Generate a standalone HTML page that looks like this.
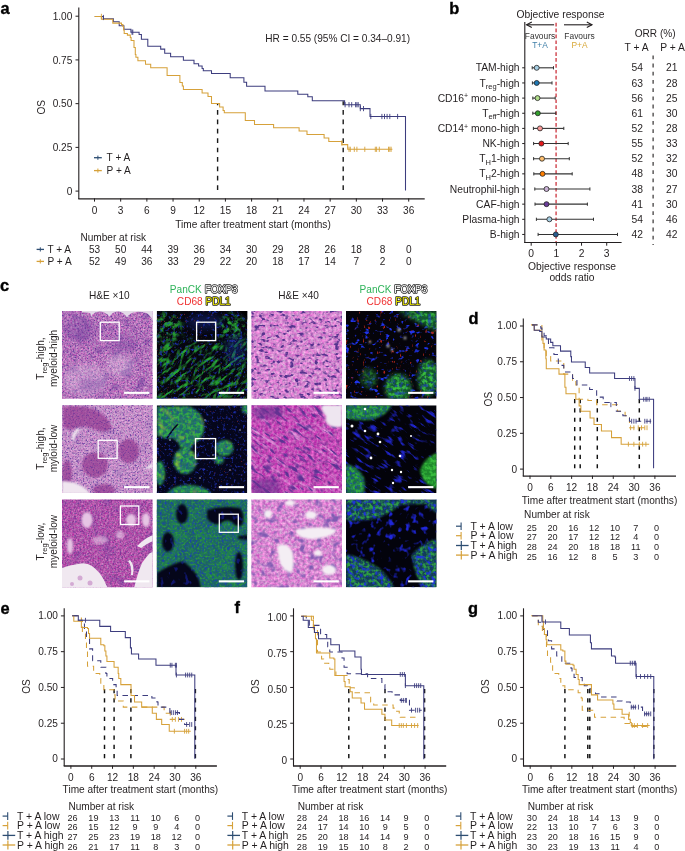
<!DOCTYPE html>
<html><head><meta charset="utf-8"><style>
html,body{margin:0;padding:0;background:#fff;width:685px;height:851px;overflow:hidden}
svg{display:block;font-family:"Liberation Sans",sans-serif;will-change:transform}
</style></head><body>
<svg width="685" height="851" viewBox="0 0 685 851">
<defs><filter id="he10" x="0" y="0" width="1" height="1" color-interpolation-filters="sRGB"><feTurbulence type="fractalNoise" baseFrequency="0.55" numOctaves="2" seed="4"/><feColorMatrix type="matrix" values="0.42 0.32 0 0 0.36  0.56 -0.18 0 0 0.28  0.32 0.1 0 0 0.53  0 0 0 0 1"/></filter><filter id="hedots" x="0" y="0" width="1" height="1" color-interpolation-filters="sRGB"><feTurbulence type="fractalNoise" baseFrequency="0.6" numOctaves="2" seed="44"/><feColorMatrix type="matrix" values="0 0 0 0 0.4  0 0 0 0 0.22  0 0 0 0 0.62  0 0 4.5 0 -2.565"/></filter><filter id="he10m" x="0" y="0" width="1" height="1" color-interpolation-filters="sRGB"><feTurbulence type="fractalNoise" baseFrequency="0.55" numOctaves="2" seed="48"/><feColorMatrix type="matrix" values="0.42 0.32 0 0 0.33  0.5 -0.18 0 0 0.18  0.32 0.1 0 0 0.46  0 0 0 0 1"/></filter><filter id="he10b" x="0" y="0" width="1" height="1" color-interpolation-filters="sRGB"><feTurbulence type="fractalNoise" baseFrequency="0.55" numOctaves="2" seed="8"/><feColorMatrix type="matrix" values="0.42 0.32 0 0 0.36  0.56 -0.18 0 0 0.28  0.32 0.1 0 0 0.53  0 0 0 0 1"/></filter><filter id="heblot" x="0" y="0" width="1" height="1" color-interpolation-filters="sRGB"><feTurbulence type="fractalNoise" baseFrequency="0.09" numOctaves="2" seed="12"/><feColorMatrix type="matrix" values="0 0 0 0 0.4  0 0 0 0 0.22  0 0 0 0 0.6  3 0 0 0 -1.560"/></filter><filter id="heblot2" x="0" y="0" width="1" height="1" color-interpolation-filters="sRGB"><feTurbulence type="fractalNoise" baseFrequency="0.07" numOctaves="2" seed="31"/><feColorMatrix type="matrix" values="0 0 0 0 0.4  0 0 0 0 0.22  0 0 0 0 0.6  3 0 0 0 -1.650"/></filter><filter id="he40" x="0" y="0" width="1" height="1" color-interpolation-filters="sRGB"><feTurbulence type="fractalNoise" baseFrequency="0.35" numOctaves="2" seed="14"/><feColorMatrix type="matrix" values="0.4 0.3 0 0 0.49  0.55 -0.2 0 0 0.36  0.3 0.1 0 0 0.62  0 0 0 0 1"/></filter><filter id="nuc40" x="0" y="0" width="1" height="1" color-interpolation-filters="sRGB"><feTurbulence type="fractalNoise" baseFrequency="0.2 0.28" numOctaves="2" seed="15"/><feColorMatrix type="matrix" values="0 0 0 0 0.34  0 0 0 0 0.2  0 0 0 0 0.56  6 0 0 0 -3.360"/></filter><filter id="nuc40b" x="0" y="0" width="1" height="1" color-interpolation-filters="sRGB"><feTurbulence type="fractalNoise" baseFrequency="0.15 0.09" numOctaves="2" seed="25"/><feColorMatrix type="matrix" values="0 0 0 0 0.36  0 0 0 0 0.2  0 0 0 0 0.58  6 0 0 0 -3.420"/></filter><filter id="he40m" x="0" y="0" width="1" height="1" color-interpolation-filters="sRGB"><feTurbulence type="fractalNoise" baseFrequency="0.35" numOctaves="2" seed="16"/><feColorMatrix type="matrix" values="0.4 0.3 0 0 0.40  0.5 -0.2 0 0 0.15  0.3 0.1 0 0 0.51  0 0 0 0 1"/></filter><filter id="fib40" x="0" y="0" width="1" height="1" color-interpolation-filters="sRGB"><feTurbulence type="fractalNoise" baseFrequency="0.05 0.3" numOctaves="2" seed="26"/><feColorMatrix type="matrix" values="0 0 0 0 0.92  0 0 0 0 0.72  0 0 0 0 0.92  2.5 0 0 0 -1.450"/></filter><filter id="nucel" x="0" y="0" width="1" height="1" color-interpolation-filters="sRGB"><feTurbulence type="fractalNoise" baseFrequency="0.09 0.3" numOctaves="2" seed="27"/><feColorMatrix type="matrix" values="0 0 0 0 0.36  0 0 0 0 0.2  0 0 0 0 0.58  0 6 0 0 -3.330"/></filter><filter id="nuc40c" x="0" y="0" width="1" height="1" color-interpolation-filters="sRGB"><feTurbulence type="fractalNoise" baseFrequency="0.13 0.13" numOctaves="2" seed="35"/><feColorMatrix type="matrix" values="0 0 0 0 0.5  0 0 0 0 0.36  0 0 0 0 0.7  5 0 0 0 -2.750"/></filter><filter id="ifg" x="0" y="0" width="1" height="1" color-interpolation-filters="sRGB"><feTurbulence type="fractalNoise" baseFrequency="0.08 0.28" numOctaves="3" seed="5"/><feColorMatrix type="matrix" values="0 0 0 0 0.15  0 0 0 0 0.66  0 0 0 0 0.2  4.5 0 0 0 -2.340"/></filter><filter id="ifgB" x="0" y="0" width="1" height="1" color-interpolation-filters="sRGB"><feTurbulence type="fractalNoise" baseFrequency="0.1 0.3" numOctaves="3" seed="85"/><feColorMatrix type="matrix" values="0 0 0 0 0.15  0 0 0 0 0.66  0 0 0 0 0.2  4.5 0 0 0 -2.475"/></filter><filter id="ifgm" x="0" y="0" width="1" height="1" color-interpolation-filters="sRGB"><feTurbulence type="fractalNoise" baseFrequency="0.18" numOctaves="3" seed="55"/><feColorMatrix type="matrix" values="0 0 0 0 0.15  0 0 0 0 0.62  0 0 0 0 0.2  4 0 0 0 -1.800"/></filter><filter id="ifg2" x="0" y="0" width="1" height="1" color-interpolation-filters="sRGB"><feTurbulence type="fractalNoise" baseFrequency="0.1 0.1" numOctaves="3" seed="6"/><feColorMatrix type="matrix" values="0 0 0 0 0.14  0 0 0 0 0.64  0 0 0 0 0.2  4 0 0 0 -1.600"/></filter><filter id="ifb" x="0" y="0" width="1" height="1" color-interpolation-filters="sRGB"><feTurbulence type="fractalNoise" baseFrequency="0.35" numOctaves="2" seed="7"/><feColorMatrix type="matrix" values="0 0 0 0 0.12  0 0 0 0 0.2  0 0 0 0 0.75  0 3.5 0 0 -1.960"/></filter><filter id="ifr" x="0" y="0" width="1" height="1" color-interpolation-filters="sRGB"><feTurbulence type="fractalNoise" baseFrequency="0.7" numOctaves="1" seed="9"/><feColorMatrix type="matrix" values="0 0 0 0 0.8  0 0 0 0 0.2  0 0 0 0 0.2  0 0 8 0 -5.440"/></filter><filter id="ifnuc" x="0" y="0" width="1" height="1" color-interpolation-filters="sRGB"><feTurbulence type="fractalNoise" baseFrequency="0.2 0.26" numOctaves="2" seed="19"/><feColorMatrix type="matrix" values="0 0 0 0 0.12  0 0 0 0 0.2  0 0 0 0 0.92  0 6 0 0 -3.600"/></filter><filter id="ifnuc2" x="0" y="0" width="1" height="1" color-interpolation-filters="sRGB"><feTurbulence type="fractalNoise" baseFrequency="0.2 0.14" numOctaves="2" seed="29"/><feColorMatrix type="matrix" values="0 0 0 0 0.12  0 0 0 0 0.18  0 0 0 0 0.9  0 7 0 0 -4.200"/></filter><filter id="ifmem" x="0" y="0" width="1" height="1" color-interpolation-filters="sRGB"><feTurbulence type="fractalNoise" baseFrequency="0.3" numOctaves="2" seed="23"/><feColorMatrix type="matrix" values="0 0 0 0 0.22  0 0 0 0 0.74  0 0 0 0 0.24  3.5 0 0 0 -1.400"/></filter><filter id="ifg3" x="0" y="0" width="1" height="1" color-interpolation-filters="sRGB"><feTurbulence type="fractalNoise" baseFrequency="0.5" numOctaves="2" seed="71"/><feColorMatrix type="matrix" values="0 0 0 0 0.18  0 0 0 0 0.6  0 0 0 0 0.25  3 0 0 0 -1.350"/></filter><filter id="ifb3" x="0" y="0" width="1" height="1" color-interpolation-filters="sRGB"><feTurbulence type="fractalNoise" baseFrequency="0.4" numOctaves="2" seed="72"/><feColorMatrix type="matrix" values="0 0 0 0 0.1  0 0 0 0 0.25  0 0 0 0 0.7  0 3 0 0 -1.500"/></filter><filter id="nucIF" x="0" y="0" width="1" height="1" color-interpolation-filters="sRGB"><feTurbulence type="fractalNoise" baseFrequency="0.1 0.32" numOctaves="2" seed="81"/><feColorMatrix type="matrix" values="0 0 0 0 0.12  0 0 0 0 0.14  0 0 0 0 0.78  5 0 0 0 -2.750"/></filter><filter id="nucR" x="0" y="0" width="1" height="1" color-interpolation-filters="sRGB"><feTurbulence type="fractalNoise" baseFrequency="0.17 0.15" numOctaves="2" seed="91"/><feColorMatrix type="matrix" values="0 0 0 0 0.12  0 0 0 0 0.15  0 0 0 0 0.85  5 0 0 0 -2.850"/></filter><filter id="nucR2" x="0" y="0" width="1" height="1" color-interpolation-filters="sRGB"><feTurbulence type="fractalNoise" baseFrequency="0.25" numOctaves="2" seed="92"/><feColorMatrix type="matrix" values="0 0 0 0 0.12  0 0 0 0 0.2  0 0 0 0 0.85  0 4 0 0 -2.000"/></filter><filter id="ifyel" x="0" y="0" width="1" height="1" color-interpolation-filters="sRGB"><feTurbulence type="fractalNoise" baseFrequency="0.12" numOctaves="2" seed="61"/><feColorMatrix type="matrix" values="0 0 0 0 0.75  0 0 0 0 0.8  0 0 0 0 0.2  3 0 0 0 -1.650"/></filter><filter id="ifr40" x="0" y="0" width="1" height="1" color-interpolation-filters="sRGB"><feTurbulence type="fractalNoise" baseFrequency="0.35 0.2" numOctaves="2" seed="41"/><feColorMatrix type="matrix" values="0 0 0 0 0.85  0 0 0 0 0.18  0 0 0 0 0.12  0 0 7 0 -4.760"/></filter><filter id="bl2" x="-50%" y="-50%" width="200%" height="200%"><feGaussianBlur stdDeviation="2"/></filter><filter id="bl05" x="-50%" y="-50%" width="200%" height="200%"><feGaussianBlur stdDeviation="0.5"/></filter><filter id="bl1" x="-50%" y="-50%" width="200%" height="200%"><feGaussianBlur stdDeviation="1"/></filter><filter id="bl3" x="-50%" y="-50%" width="200%" height="200%"><feGaussianBlur stdDeviation="3"/></filter><mask id="m_r1c2b" maskUnits="userSpaceOnUse" x="0" y="0" width="685" height="851"><g fill="#fff" filter="url(#bl3)"><ellipse cx="168" cy="328" rx="14" ry="16"/><ellipse cx="232" cy="328" rx="14" ry="14"/></g></mask><mask id="m_r1c2" maskUnits="userSpaceOnUse" x="0" y="0" width="685" height="851"><rect x="156" y="340" width="92" height="60" fill="#fff" filter="url(#bl3)"/><g fill="#000" filter="url(#bl3)"><ellipse cx="200" cy="325" rx="16" ry="14"/><ellipse cx="178" cy="335" rx="6" ry="5" opacity="0.5"/><path d="M240,311 Q247,315 248,322 L248,311 Z"/></g></mask><mask id="m_r1c4" maskUnits="userSpaceOnUse" x="0" y="0" width="685" height="851"><g fill="#fff" filter="url(#bl2)"><path d="M398,311 L437,311 L437,331 Q430,329 420,323 Q408,317 398,311 Z"/><ellipse cx="398" cy="388" rx="13" ry="14"/><ellipse cx="428" cy="378" rx="10" ry="18"/><ellipse cx="369" cy="378" rx="8" ry="10" opacity="0.6"/></g></mask><mask id="m_r2c2" maskUnits="userSpaceOnUse" x="0" y="0" width="685" height="851"><g fill="#fff" filter="url(#bl1)"><path d="M157,407 L188,406 Q200,410 203,420 Q207,432 199,440 Q192,444 190,450 L180,447 Q178,440 172,438 Q164,440 160,436 L157,436 Z"/><ellipse cx="224.5" cy="448" rx="9" ry="8"/><ellipse cx="219" cy="460" rx="5" ry="4"/><ellipse cx="185" cy="461" rx="11.5" ry="13"/><ellipse cx="160" cy="473" rx="5" ry="12"/><path d="M166,494 Q174,484 190,485 Q206,486 212,494 Z"/><ellipse cx="246" cy="409" rx="4" ry="5"/></g><path d="M178,424 Q172,430 166,440" stroke="#000" stroke-width="1.5" fill="none"/></mask><mask id="m_r2c4" maskUnits="userSpaceOnUse" x="0" y="0" width="685" height="851"><g fill="#fff" filter="url(#bl1)"><path d="M346,405 L392,405 Q388,414 375,419 Q360,422 346,418 Z"/><path d="M346,464 Q358,466 364,478 Q366,488 363,494 L346,494 Z"/></g></mask><mask id="m_r2c4b" maskUnits="userSpaceOnUse" x="0" y="0" width="685" height="851"><g fill="#fff" filter="url(#bl1)"><path d="M437,453 Q424,458 420,470 Q422,484 437,489 Z"/></g></mask><mask id="m_r3c2" maskUnits="userSpaceOnUse" x="0" y="0" width="685" height="851"><rect x="156" y="499" width="92" height="89" fill="#fff"/><g fill="#000" filter="url(#bl1)"><path d="M157,573 Q168,565 183,561 Q190,566 197,575 Q200,581 201,588 L157,588 Z"/><path d="M207,510 Q222,505 240,508 Q246,516 242,525 Q236,528 232,522 Q226,518 220,524 Q212,526 207,518 Z"/><ellipse cx="182" cy="514" rx="6" ry="10"/><ellipse cx="168" cy="542" rx="6" ry="10"/><ellipse cx="239" cy="566" rx="4" ry="14"/><path d="M238,536 L248,535 L248,540 L238,539 Z"/></g></mask><mask id="m_r3c4" maskUnits="userSpaceOnUse" x="0" y="0" width="685" height="851"><g fill="#fff" filter="url(#bl1)"><path d="M346,499 L437,499 L437,503 Q420,504 400,505 Q392,512 378,518 Q360,522 346,520 Z"/><path d="M420,499 L437,499 L437,513 Q428,508 420,499 Z"/><path d="M346,554 Q365,558 380,569 Q390,578 395,590 L346,590 Z"/><path d="M437,539 Q420,544 412,555 Q414,575 424,590 L437,590 Z"/></g></mask></defs>
<rect width="685" height="851" fill="#fff"/>
<text x="0.60" y="13.60" font-size="16.4" font-weight="bold" fill="#000" stroke="#000" stroke-width="0.35">a</text>
<line x1="78.80" y1="7.60" x2="78.80" y2="198.90" stroke="#231f20" stroke-width="1.1"/>
<line x1="78.30" y1="198.90" x2="424.70" y2="198.90" stroke="#231f20" stroke-width="1.4"/>
<line x1="75.50" y1="16.20" x2="78.80" y2="16.20" stroke="#231f20" stroke-width="1"/>
<text x="72.30" y="19.80" font-size="10.1" text-anchor="end" fill="#231f20">1.00</text>
<line x1="75.50" y1="59.92" x2="78.80" y2="59.92" stroke="#231f20" stroke-width="1"/>
<text x="72.30" y="63.52" font-size="10.1" text-anchor="end" fill="#231f20">0.75</text>
<line x1="75.50" y1="103.65" x2="78.80" y2="103.65" stroke="#231f20" stroke-width="1"/>
<text x="72.30" y="107.25" font-size="10.1" text-anchor="end" fill="#231f20">0.50</text>
<line x1="75.50" y1="147.38" x2="78.80" y2="147.38" stroke="#231f20" stroke-width="1"/>
<text x="72.30" y="150.97" font-size="10.1" text-anchor="end" fill="#231f20">0.25</text>
<line x1="75.50" y1="191.10" x2="78.80" y2="191.10" stroke="#231f20" stroke-width="1"/>
<text x="72.30" y="194.70" font-size="10.1" text-anchor="end" fill="#231f20">0</text>
<line x1="94.50" y1="198.40" x2="94.50" y2="201.60" stroke="#231f20" stroke-width="1"/>
<text x="94.50" y="213.70" font-size="10.1" text-anchor="middle" fill="#231f20">0</text>
<line x1="120.68" y1="198.40" x2="120.68" y2="201.60" stroke="#231f20" stroke-width="1"/>
<text x="120.68" y="213.70" font-size="10.1" text-anchor="middle" fill="#231f20">3</text>
<line x1="146.87" y1="198.40" x2="146.87" y2="201.60" stroke="#231f20" stroke-width="1"/>
<text x="146.87" y="213.70" font-size="10.1" text-anchor="middle" fill="#231f20">6</text>
<line x1="173.05" y1="198.40" x2="173.05" y2="201.60" stroke="#231f20" stroke-width="1"/>
<text x="173.05" y="213.70" font-size="10.1" text-anchor="middle" fill="#231f20">9</text>
<line x1="199.24" y1="198.40" x2="199.24" y2="201.60" stroke="#231f20" stroke-width="1"/>
<text x="199.24" y="213.70" font-size="10.1" text-anchor="middle" fill="#231f20">12</text>
<line x1="225.42" y1="198.40" x2="225.42" y2="201.60" stroke="#231f20" stroke-width="1"/>
<text x="225.42" y="213.70" font-size="10.1" text-anchor="middle" fill="#231f20">15</text>
<line x1="251.60" y1="198.40" x2="251.60" y2="201.60" stroke="#231f20" stroke-width="1"/>
<text x="251.60" y="213.70" font-size="10.1" text-anchor="middle" fill="#231f20">18</text>
<line x1="277.79" y1="198.40" x2="277.79" y2="201.60" stroke="#231f20" stroke-width="1"/>
<text x="277.79" y="213.70" font-size="10.1" text-anchor="middle" fill="#231f20">21</text>
<line x1="303.97" y1="198.40" x2="303.97" y2="201.60" stroke="#231f20" stroke-width="1"/>
<text x="303.97" y="213.70" font-size="10.1" text-anchor="middle" fill="#231f20">24</text>
<line x1="330.16" y1="198.40" x2="330.16" y2="201.60" stroke="#231f20" stroke-width="1"/>
<text x="330.16" y="213.70" font-size="10.1" text-anchor="middle" fill="#231f20">27</text>
<line x1="356.34" y1="198.40" x2="356.34" y2="201.60" stroke="#231f20" stroke-width="1"/>
<text x="356.34" y="213.70" font-size="10.1" text-anchor="middle" fill="#231f20">30</text>
<line x1="382.52" y1="198.40" x2="382.52" y2="201.60" stroke="#231f20" stroke-width="1"/>
<text x="382.52" y="213.70" font-size="10.1" text-anchor="middle" fill="#231f20">33</text>
<line x1="408.71" y1="198.40" x2="408.71" y2="201.60" stroke="#231f20" stroke-width="1"/>
<text x="408.71" y="213.70" font-size="10.1" text-anchor="middle" fill="#231f20">36</text>
<text x="253.00" y="228.40" font-size="10.1" text-anchor="middle" fill="#231f20">Time after treatment start (months)</text>
<text x="80.40" y="240.70" font-size="10.1" fill="#231f20">Number at risk</text>
<text x="47.40" y="252.90" font-size="10.1" fill="#231f20">T + A</text>
<text x="47.40" y="264.90" font-size="10.1" fill="#231f20">P + A</text>
<line x1="36.60" y1="249.40" x2="44.00" y2="249.40" stroke="#2d4d72" stroke-width="1.3"/>
<line x1="40.30" y1="247.30" x2="40.30" y2="251.50" stroke="#2d4d72" stroke-width="1.0"/>
<line x1="36.60" y1="261.40" x2="44.00" y2="261.40" stroke="#d6a13a" stroke-width="1.3"/>
<line x1="40.30" y1="259.30" x2="40.30" y2="263.50" stroke="#d6a13a" stroke-width="1.0"/>
<text x="94.50" y="252.90" font-size="10.1" text-anchor="middle" fill="#231f20">53</text>
<text x="94.50" y="264.90" font-size="10.1" text-anchor="middle" fill="#231f20">52</text>
<text x="120.68" y="252.90" font-size="10.1" text-anchor="middle" fill="#231f20">50</text>
<text x="120.68" y="264.90" font-size="10.1" text-anchor="middle" fill="#231f20">49</text>
<text x="146.87" y="252.90" font-size="10.1" text-anchor="middle" fill="#231f20">44</text>
<text x="146.87" y="264.90" font-size="10.1" text-anchor="middle" fill="#231f20">36</text>
<text x="173.05" y="252.90" font-size="10.1" text-anchor="middle" fill="#231f20">39</text>
<text x="173.05" y="264.90" font-size="10.1" text-anchor="middle" fill="#231f20">33</text>
<text x="199.24" y="252.90" font-size="10.1" text-anchor="middle" fill="#231f20">36</text>
<text x="199.24" y="264.90" font-size="10.1" text-anchor="middle" fill="#231f20">29</text>
<text x="225.42" y="252.90" font-size="10.1" text-anchor="middle" fill="#231f20">34</text>
<text x="225.42" y="264.90" font-size="10.1" text-anchor="middle" fill="#231f20">22</text>
<text x="251.60" y="252.90" font-size="10.1" text-anchor="middle" fill="#231f20">30</text>
<text x="251.60" y="264.90" font-size="10.1" text-anchor="middle" fill="#231f20">20</text>
<text x="277.79" y="252.90" font-size="10.1" text-anchor="middle" fill="#231f20">29</text>
<text x="277.79" y="264.90" font-size="10.1" text-anchor="middle" fill="#231f20">18</text>
<text x="303.97" y="252.90" font-size="10.1" text-anchor="middle" fill="#231f20">28</text>
<text x="303.97" y="264.90" font-size="10.1" text-anchor="middle" fill="#231f20">17</text>
<text x="330.16" y="252.90" font-size="10.1" text-anchor="middle" fill="#231f20">26</text>
<text x="330.16" y="264.90" font-size="10.1" text-anchor="middle" fill="#231f20">14</text>
<text x="356.34" y="252.90" font-size="10.1" text-anchor="middle" fill="#231f20">18</text>
<text x="356.34" y="264.90" font-size="10.1" text-anchor="middle" fill="#231f20">7</text>
<text x="382.52" y="252.90" font-size="10.1" text-anchor="middle" fill="#231f20">8</text>
<text x="382.52" y="264.90" font-size="10.1" text-anchor="middle" fill="#231f20">2</text>
<text x="408.71" y="252.90" font-size="10.1" text-anchor="middle" fill="#231f20">0</text>
<text x="408.71" y="264.90" font-size="10.1" text-anchor="middle" fill="#231f20">0</text>
<text transform="translate(44.9,107.2) rotate(-90)" font-size="10.1" text-anchor="middle" fill="#231f20">OS</text>
<text x="265.30" y="42.20" font-size="10.1" fill="#231f20">HR = 0.55 (95% CI = 0.34–0.91)</text>
<line x1="94.00" y1="157.70" x2="101.80" y2="157.70" stroke="#2d4d72" stroke-width="1.3"/>
<line x1="97.90" y1="155.60" x2="97.90" y2="159.80" stroke="#2d4d72" stroke-width="1.0"/>
<text x="106.60" y="161.40" font-size="10.1" fill="#231f20">T + A</text>
<line x1="94.00" y1="170.60" x2="101.80" y2="170.60" stroke="#d6a13a" stroke-width="1.3"/>
<line x1="97.90" y1="168.50" x2="97.90" y2="172.70" stroke="#d6a13a" stroke-width="1.0"/>
<text x="106.60" y="174.30" font-size="10.1" fill="#231f20">P + A</text>
<line x1="217.60" y1="103.65" x2="217.60" y2="191.10" stroke="#1a1a1a" stroke-width="1.4" stroke-dasharray="4.7,4.7" stroke-dashoffset="3"/>
<line x1="343.20" y1="101.15" x2="343.20" y2="191.10" stroke="#1a1a1a" stroke-width="1.4" stroke-dasharray="4.7,4.7" stroke-dashoffset="0.5"/>
<polyline points="94.70,16.40 103.40,16.40 103.40,18.80 113.40,18.80 113.40,21.70 119.20,21.70 119.20,25.80 123.90,25.80 123.90,29.30 130.90,29.30 130.90,32.20 139.10,32.20 139.10,34.50 141.40,34.50 141.40,39.20 147.80,39.20 147.80,46.20 160.70,46.20 160.70,49.10 164.70,49.10 164.70,53.20 170.60,53.20 170.60,56.70 183.40,56.70 183.40,60.20 194.00,60.20 194.00,63.70 198.60,63.70 198.60,66.00 202.10,66.00 202.10,68.40 203.30,68.40 203.30,70.70 211.50,70.70 211.50,73.50 230.20,73.50 230.20,77.70 243.90,77.70 243.90,82.30 246.60,82.30 246.60,86.30 265.00,86.30 265.00,91.00 297.80,91.00 297.80,94.20 307.80,94.20 307.80,96.80 312.30,96.80 312.30,100.70 344.60,100.70 344.60,104.70 360.30,104.70 360.30,108.60 370.00,108.60 370.00,116.50 405.50,116.50 405.50,190.50" fill="none" stroke="#3d3d7e" stroke-width="1.05" stroke-linejoin="miter"/>
<polyline points="94.70,16.40 101.40,16.40 101.40,19.30 112.80,19.30 112.80,23.10 121.50,23.10 121.50,24.60 122.90,24.60 122.90,26.40 123.60,26.40 123.60,29.90 124.20,29.90 124.20,33.40 127.40,33.40 127.40,35.10 130.30,35.10 130.30,37.40 131.10,37.40 131.10,40.40 134.00,40.40 134.00,47.40 135.30,47.40 135.30,54.40 135.90,54.40 135.90,57.30 137.90,57.30 137.90,60.80 145.50,60.80 145.50,64.30 150.70,64.30 150.70,67.80 167.10,67.80 167.10,75.40 178.30,75.40 178.30,75.40 179.90,75.40 179.90,82.40 182.30,82.40 182.30,85.90 183.40,85.90 183.40,89.40 202.10,89.40 202.10,92.90 208.00,92.90 208.00,96.40 211.50,96.40 211.50,103.40 219.60,103.40 219.60,106.90 223.10,106.90 223.10,110.40 224.30,110.40 224.30,112.80 245.30,112.80 245.30,120.40 254.50,120.40 254.50,124.40 273.60,124.40 273.60,127.80 299.10,127.80 299.10,130.90 307.00,130.90 307.00,134.40 324.10,134.40 324.10,138.00 328.80,138.00 328.80,141.50 341.90,141.50 341.90,144.60 347.70,144.60 347.70,149.30 392.40,149.30" fill="none" stroke="#d6a13a" stroke-width="1.05" stroke-linejoin="miter"/>
<line x1="101.40" y1="13.80" x2="101.40" y2="19.00" stroke="#d6a13a" stroke-width="0.9"/>
<line x1="103.40" y1="14.90" x2="103.40" y2="20.10" stroke="#3d3d7e" stroke-width="0.9"/>
<line x1="132.00" y1="29.60" x2="132.00" y2="34.80" stroke="#3d3d7e" stroke-width="0.9"/>
<line x1="132.80" y1="29.60" x2="132.80" y2="34.80" stroke="#3d3d7e" stroke-width="0.9"/>
<line x1="349.00" y1="146.70" x2="349.00" y2="151.90" stroke="#d6a13a" stroke-width="0.9"/>
<line x1="350.30" y1="146.70" x2="350.30" y2="151.90" stroke="#d6a13a" stroke-width="0.9"/>
<line x1="354.30" y1="146.70" x2="354.30" y2="151.90" stroke="#d6a13a" stroke-width="0.9"/>
<line x1="356.90" y1="146.70" x2="356.90" y2="151.90" stroke="#d6a13a" stroke-width="0.9"/>
<line x1="364.80" y1="146.70" x2="364.80" y2="151.90" stroke="#d6a13a" stroke-width="0.9"/>
<line x1="375.30" y1="146.70" x2="375.30" y2="151.90" stroke="#d6a13a" stroke-width="0.9"/>
<line x1="376.60" y1="146.70" x2="376.60" y2="151.90" stroke="#d6a13a" stroke-width="0.9"/>
<line x1="379.30" y1="146.70" x2="379.30" y2="151.90" stroke="#d6a13a" stroke-width="0.9"/>
<line x1="388.50" y1="146.70" x2="388.50" y2="151.90" stroke="#d6a13a" stroke-width="0.9"/>
<line x1="389.80" y1="146.70" x2="389.80" y2="151.90" stroke="#d6a13a" stroke-width="0.9"/>
<line x1="391.10" y1="146.70" x2="391.10" y2="151.90" stroke="#d6a13a" stroke-width="0.9"/>
<line x1="341.90" y1="140.40" x2="341.90" y2="145.60" stroke="#d6a13a" stroke-width="0.9"/>
<line x1="345.10" y1="102.10" x2="345.10" y2="107.30" stroke="#3d3d7e" stroke-width="0.9"/>
<line x1="349.00" y1="102.10" x2="349.00" y2="107.30" stroke="#3d3d7e" stroke-width="0.9"/>
<line x1="351.70" y1="102.10" x2="351.70" y2="107.30" stroke="#3d3d7e" stroke-width="0.9"/>
<line x1="355.60" y1="102.10" x2="355.60" y2="107.30" stroke="#3d3d7e" stroke-width="0.9"/>
<line x1="356.90" y1="102.10" x2="356.90" y2="107.30" stroke="#3d3d7e" stroke-width="0.9"/>
<line x1="358.20" y1="102.10" x2="358.20" y2="107.30" stroke="#3d3d7e" stroke-width="0.9"/>
<line x1="360.30" y1="106.00" x2="360.30" y2="111.20" stroke="#3d3d7e" stroke-width="0.9"/>
<line x1="363.50" y1="106.00" x2="363.50" y2="111.20" stroke="#3d3d7e" stroke-width="0.9"/>
<line x1="370.80" y1="113.90" x2="370.80" y2="119.10" stroke="#3d3d7e" stroke-width="0.9"/>
<line x1="381.90" y1="113.90" x2="381.90" y2="119.10" stroke="#3d3d7e" stroke-width="0.9"/>
<line x1="384.50" y1="113.90" x2="384.50" y2="119.10" stroke="#3d3d7e" stroke-width="0.9"/>
<line x1="387.10" y1="113.90" x2="387.10" y2="119.10" stroke="#3d3d7e" stroke-width="0.9"/>
<line x1="389.80" y1="113.90" x2="389.80" y2="119.10" stroke="#3d3d7e" stroke-width="0.9"/>
<line x1="397.60" y1="113.90" x2="397.60" y2="119.10" stroke="#3d3d7e" stroke-width="0.9"/>
<text x="449.30" y="14.20" font-size="16.4" font-weight="bold" fill="#000" stroke="#000" stroke-width="0.35">b</text>
<line x1="524.80" y1="22.00" x2="524.80" y2="243.00" stroke="#231f20" stroke-width="1.1"/>
<line x1="524.30" y1="242.50" x2="621.60" y2="242.50" stroke="#231f20" stroke-width="1.1"/>
<line x1="531.20" y1="242.50" x2="531.20" y2="245.70" stroke="#231f20" stroke-width="1"/>
<text x="531.20" y="257.10" font-size="10.3" text-anchor="middle" fill="#231f20">0</text>
<line x1="556.37" y1="242.50" x2="556.37" y2="245.70" stroke="#231f20" stroke-width="1"/>
<text x="556.37" y="257.10" font-size="10.3" text-anchor="middle" fill="#231f20">1</text>
<line x1="581.54" y1="242.50" x2="581.54" y2="245.70" stroke="#231f20" stroke-width="1"/>
<text x="581.54" y="257.10" font-size="10.3" text-anchor="middle" fill="#231f20">2</text>
<line x1="606.71" y1="242.50" x2="606.71" y2="245.70" stroke="#231f20" stroke-width="1"/>
<text x="606.71" y="257.10" font-size="10.3" text-anchor="middle" fill="#231f20">3</text>
<text x="572.00" y="269.60" font-size="10.3" text-anchor="middle" fill="#231f20">Objective response</text>
<text x="572.00" y="281.00" font-size="10.3" text-anchor="middle" fill="#231f20">odds ratio</text>
<text x="560.50" y="17.90" font-size="10.3" text-anchor="middle" fill="#231f20">Objective response</text>
<line x1="526.60" y1="24.80" x2="554.10" y2="24.80" stroke="#231f20" stroke-width="1.1"/>
<polyline points="531.8,22.0 526.6,24.8 531.8,27.6" fill="none" stroke="#231f20" stroke-width="1.1"/>
<line x1="564.00" y1="24.80" x2="592.00" y2="24.80" stroke="#231f20" stroke-width="1.1"/>
<polyline points="586.8,22.0 592.0,24.8 586.8,27.6" fill="none" stroke="#231f20" stroke-width="1.1"/>
<text x="540.00" y="38.80" font-size="8.4" text-anchor="middle" fill="#333">Favours</text>
<text x="540.00" y="48.40" font-size="8.4" text-anchor="middle" fill="#3f7fa8">T+A</text>
<text x="579.50" y="38.80" font-size="8.4" text-anchor="middle" fill="#333">Favours</text>
<text x="579.50" y="48.40" font-size="8.4" text-anchor="middle" fill="#d8a838">P+A</text>
<line x1="556.10" y1="22.70" x2="556.10" y2="242.00" stroke="#d65a62" stroke-width="1.6" stroke-dasharray="3.7,2.2"/>
<text x="655.20" y="36.60" font-size="10.1" text-anchor="middle" fill="#231f20">ORR (%)</text>
<text x="636.50" y="51.20" font-size="10.3" text-anchor="middle" fill="#231f20">T + A</text>
<text x="672.50" y="51.20" font-size="10.3" text-anchor="middle" fill="#231f20">P + A</text>
<line x1="653.10" y1="55.40" x2="653.10" y2="245.00" stroke="#231f20" stroke-width="1.1" stroke-dasharray="3.8,4.4"/>
<line x1="522.20" y1="67.80" x2="524.80" y2="67.80" stroke="#231f20" stroke-width="1"/>
<text x="519.60" y="71.40" font-size="10.3" text-anchor="end" fill="#231f20">TAM-high</text>
<line x1="532.20" y1="67.80" x2="553.50" y2="67.80" stroke="#333" stroke-width="1.1"/>
<line x1="532.20" y1="66.20" x2="532.20" y2="69.40" stroke="#333" stroke-width="1.0"/>
<line x1="553.50" y1="66.20" x2="553.50" y2="69.40" stroke="#333" stroke-width="1.0"/>
<circle cx="536.70" cy="67.80" r="2.5" fill="#a6cee3" stroke="#222" stroke-width="0.8"/>
<text x="637.20" y="71.40" font-size="10.3" text-anchor="middle" fill="#231f20">54</text>
<text x="671.80" y="71.40" font-size="10.3" text-anchor="middle" fill="#231f20">21</text>
<line x1="522.20" y1="82.95" x2="524.80" y2="82.95" stroke="#231f20" stroke-width="1"/>
<text x="519.60" y="86.55" font-size="10.3" text-anchor="end" fill="#231f20">T<tspan font-size="7.5" dy="2.5">reg</tspan><tspan dy="-2.5">-high</tspan></text>
<line x1="532.40" y1="82.95" x2="552.00" y2="82.95" stroke="#333" stroke-width="1.1"/>
<line x1="532.40" y1="81.35" x2="532.40" y2="84.55" stroke="#333" stroke-width="1.0"/>
<line x1="552.00" y1="81.35" x2="552.00" y2="84.55" stroke="#333" stroke-width="1.0"/>
<circle cx="536.70" cy="82.95" r="2.5" fill="#1f78b4" stroke="#222" stroke-width="0.8"/>
<text x="637.20" y="86.55" font-size="10.3" text-anchor="middle" fill="#231f20">63</text>
<text x="671.80" y="86.55" font-size="10.3" text-anchor="middle" fill="#231f20">28</text>
<line x1="522.20" y1="98.10" x2="524.80" y2="98.10" stroke="#231f20" stroke-width="1"/>
<text x="519.60" y="101.70" font-size="10.3" text-anchor="end" fill="#231f20">CD16<tspan font-size="7" dy="-3.5">+</tspan><tspan dy="3.5"> mono-high</tspan></text>
<line x1="532.80" y1="98.10" x2="555.20" y2="98.10" stroke="#333" stroke-width="1.1"/>
<line x1="532.80" y1="96.50" x2="532.80" y2="99.70" stroke="#333" stroke-width="1.0"/>
<line x1="555.20" y1="96.50" x2="555.20" y2="99.70" stroke="#333" stroke-width="1.0"/>
<circle cx="537.50" cy="98.10" r="2.5" fill="#b2df8a" stroke="#222" stroke-width="0.8"/>
<text x="637.20" y="101.70" font-size="10.3" text-anchor="middle" fill="#231f20">56</text>
<text x="671.80" y="101.70" font-size="10.3" text-anchor="middle" fill="#231f20">25</text>
<line x1="522.20" y1="113.25" x2="524.80" y2="113.25" stroke="#231f20" stroke-width="1"/>
<text x="519.60" y="116.85" font-size="10.3" text-anchor="end" fill="#231f20">T<tspan font-size="7.5" dy="2.5">eff</tspan><tspan dy="-2.5">-high</tspan></text>
<line x1="532.80" y1="113.25" x2="555.80" y2="113.25" stroke="#333" stroke-width="1.1"/>
<line x1="532.80" y1="111.65" x2="532.80" y2="114.85" stroke="#333" stroke-width="1.0"/>
<line x1="555.80" y1="111.65" x2="555.80" y2="114.85" stroke="#333" stroke-width="1.0"/>
<circle cx="537.80" cy="113.25" r="2.5" fill="#33a02c" stroke="#222" stroke-width="0.8"/>
<text x="637.20" y="116.85" font-size="10.3" text-anchor="middle" fill="#231f20">61</text>
<text x="671.80" y="116.85" font-size="10.3" text-anchor="middle" fill="#231f20">30</text>
<line x1="522.20" y1="128.40" x2="524.80" y2="128.40" stroke="#231f20" stroke-width="1"/>
<text x="519.60" y="132.00" font-size="10.3" text-anchor="end" fill="#231f20">CD14<tspan font-size="7" dy="-3.5">+</tspan><tspan dy="3.5"> mono-high</tspan></text>
<line x1="533.40" y1="128.40" x2="563.80" y2="128.40" stroke="#333" stroke-width="1.1"/>
<line x1="533.40" y1="126.80" x2="533.40" y2="130.00" stroke="#333" stroke-width="1.0"/>
<line x1="563.80" y1="126.80" x2="563.80" y2="130.00" stroke="#333" stroke-width="1.0"/>
<circle cx="540.00" cy="128.40" r="2.5" fill="#fb9a99" stroke="#222" stroke-width="0.8"/>
<text x="637.20" y="132.00" font-size="10.3" text-anchor="middle" fill="#231f20">52</text>
<text x="671.80" y="132.00" font-size="10.3" text-anchor="middle" fill="#231f20">28</text>
<line x1="522.20" y1="143.55" x2="524.80" y2="143.55" stroke="#231f20" stroke-width="1"/>
<text x="519.60" y="147.15" font-size="10.3" text-anchor="end" fill="#231f20">NK-high</text>
<line x1="533.60" y1="143.55" x2="568.20" y2="143.55" stroke="#333" stroke-width="1.1"/>
<line x1="533.60" y1="141.95" x2="533.60" y2="145.15" stroke="#333" stroke-width="1.0"/>
<line x1="568.20" y1="141.95" x2="568.20" y2="145.15" stroke="#333" stroke-width="1.0"/>
<circle cx="541.40" cy="143.55" r="2.5" fill="#e31a1c" stroke="#222" stroke-width="0.8"/>
<text x="637.20" y="147.15" font-size="10.3" text-anchor="middle" fill="#231f20">55</text>
<text x="671.80" y="147.15" font-size="10.3" text-anchor="middle" fill="#231f20">33</text>
<line x1="522.20" y1="158.70" x2="524.80" y2="158.70" stroke="#231f20" stroke-width="1"/>
<text x="519.60" y="162.30" font-size="10.3" text-anchor="end" fill="#231f20">T<tspan font-size="7.5" dy="2.5">H</tspan><tspan dy="-2.5">1-high</tspan></text>
<line x1="533.60" y1="158.70" x2="569.30" y2="158.70" stroke="#333" stroke-width="1.1"/>
<line x1="533.60" y1="157.10" x2="533.60" y2="160.30" stroke="#333" stroke-width="1.0"/>
<line x1="569.30" y1="157.10" x2="569.30" y2="160.30" stroke="#333" stroke-width="1.0"/>
<circle cx="542.00" cy="158.70" r="2.5" fill="#fdbf6f" stroke="#222" stroke-width="0.8"/>
<text x="637.20" y="162.30" font-size="10.3" text-anchor="middle" fill="#231f20">52</text>
<text x="671.80" y="162.30" font-size="10.3" text-anchor="middle" fill="#231f20">32</text>
<line x1="522.20" y1="173.85" x2="524.80" y2="173.85" stroke="#231f20" stroke-width="1"/>
<text x="519.60" y="177.45" font-size="10.3" text-anchor="end" fill="#231f20">T<tspan font-size="7.5" dy="2.5">H</tspan><tspan dy="-2.5">2-high</tspan></text>
<line x1="533.80" y1="173.85" x2="572.20" y2="173.85" stroke="#333" stroke-width="1.1"/>
<line x1="533.80" y1="172.25" x2="533.80" y2="175.45" stroke="#333" stroke-width="1.0"/>
<line x1="572.20" y1="172.25" x2="572.20" y2="175.45" stroke="#333" stroke-width="1.0"/>
<circle cx="542.50" cy="173.85" r="2.5" fill="#ff7f00" stroke="#222" stroke-width="0.8"/>
<text x="637.20" y="177.45" font-size="10.3" text-anchor="middle" fill="#231f20">48</text>
<text x="671.80" y="177.45" font-size="10.3" text-anchor="middle" fill="#231f20">30</text>
<line x1="522.20" y1="189.00" x2="524.80" y2="189.00" stroke="#231f20" stroke-width="1"/>
<text x="519.60" y="192.60" font-size="10.3" text-anchor="end" fill="#231f20">Neutrophil-high</text>
<line x1="534.80" y1="189.00" x2="589.90" y2="189.00" stroke="#333" stroke-width="1.1"/>
<line x1="534.80" y1="187.40" x2="534.80" y2="190.60" stroke="#333" stroke-width="1.0"/>
<line x1="589.90" y1="187.40" x2="589.90" y2="190.60" stroke="#333" stroke-width="1.0"/>
<circle cx="546.50" cy="189.00" r="2.5" fill="#cab2d6" stroke="#222" stroke-width="0.8"/>
<text x="637.20" y="192.60" font-size="10.3" text-anchor="middle" fill="#231f20">38</text>
<text x="671.80" y="192.60" font-size="10.3" text-anchor="middle" fill="#231f20">27</text>
<line x1="522.20" y1="204.15" x2="524.80" y2="204.15" stroke="#231f20" stroke-width="1"/>
<text x="519.60" y="207.75" font-size="10.3" text-anchor="end" fill="#231f20">CAF-high</text>
<line x1="535.00" y1="204.15" x2="587.40" y2="204.15" stroke="#333" stroke-width="1.1"/>
<line x1="535.00" y1="202.55" x2="535.00" y2="205.75" stroke="#333" stroke-width="1.0"/>
<line x1="587.40" y1="202.55" x2="587.40" y2="205.75" stroke="#333" stroke-width="1.0"/>
<circle cx="546.50" cy="204.15" r="2.5" fill="#6a3d9a" stroke="#222" stroke-width="0.8"/>
<text x="637.20" y="207.75" font-size="10.3" text-anchor="middle" fill="#231f20">41</text>
<text x="671.80" y="207.75" font-size="10.3" text-anchor="middle" fill="#231f20">30</text>
<line x1="522.20" y1="219.30" x2="524.80" y2="219.30" stroke="#231f20" stroke-width="1"/>
<text x="519.60" y="222.90" font-size="10.3" text-anchor="end" fill="#231f20">Plasma-high</text>
<line x1="536.40" y1="219.30" x2="593.50" y2="219.30" stroke="#333" stroke-width="1.1"/>
<line x1="536.40" y1="217.70" x2="536.40" y2="220.90" stroke="#333" stroke-width="1.0"/>
<line x1="593.50" y1="217.70" x2="593.50" y2="220.90" stroke="#333" stroke-width="1.0"/>
<circle cx="549.40" cy="219.30" r="2.5" fill="#a6cee3" stroke="#222" stroke-width="0.8"/>
<text x="637.20" y="222.90" font-size="10.3" text-anchor="middle" fill="#231f20">54</text>
<text x="671.80" y="222.90" font-size="10.3" text-anchor="middle" fill="#231f20">46</text>
<line x1="522.20" y1="234.45" x2="524.80" y2="234.45" stroke="#231f20" stroke-width="1"/>
<text x="519.60" y="238.05" font-size="10.3" text-anchor="end" fill="#231f20">B-high</text>
<line x1="538.10" y1="234.45" x2="617.50" y2="234.45" stroke="#333" stroke-width="1.1"/>
<line x1="538.10" y1="232.85" x2="538.10" y2="236.05" stroke="#333" stroke-width="1.0"/>
<line x1="617.50" y1="232.85" x2="617.50" y2="236.05" stroke="#333" stroke-width="1.0"/>
<circle cx="555.80" cy="234.45" r="2.5" fill="#2a5d8f" stroke="#222" stroke-width="0.8"/>
<text x="637.20" y="238.05" font-size="10.3" text-anchor="middle" fill="#231f20">42</text>
<text x="671.80" y="238.05" font-size="10.3" text-anchor="middle" fill="#231f20">42</text>
<text x="0.00" y="290.60" font-size="16.4" font-weight="bold" fill="#000" stroke="#000" stroke-width="0.35">c</text>
<clipPath id="cp00"><rect x="62.0" y="311.0" width="90.6" height="87.8"/></clipPath>
<clipPath id="cp01"><rect x="156.7" y="311.0" width="90.6" height="87.8"/></clipPath>
<clipPath id="cp02"><rect x="251.4" y="311.0" width="90.6" height="87.8"/></clipPath>
<clipPath id="cp03"><rect x="346.0" y="311.0" width="90.6" height="87.8"/></clipPath>
<clipPath id="cp10"><rect x="62.0" y="405.3" width="90.6" height="87.8"/></clipPath>
<clipPath id="cp11"><rect x="156.7" y="405.3" width="90.6" height="87.8"/></clipPath>
<clipPath id="cp12"><rect x="251.4" y="405.3" width="90.6" height="87.8"/></clipPath>
<clipPath id="cp13"><rect x="346.0" y="405.3" width="90.6" height="87.8"/></clipPath>
<clipPath id="cp20"><rect x="62.0" y="499.5" width="90.6" height="87.8"/></clipPath>
<clipPath id="cp21"><rect x="156.7" y="499.5" width="90.6" height="87.8"/></clipPath>
<clipPath id="cp22"><rect x="251.4" y="499.5" width="90.6" height="87.8"/></clipPath>
<clipPath id="cp23"><rect x="346.0" y="499.5" width="90.6" height="87.8"/></clipPath>
<g clip-path="url(#cp00)"><rect x="62.0" y="311.0" width="90.6" height="87.8" fill="#000" filter="url(#he10)"/><rect x="62.0" y="311.0" width="90.6" height="87.8" fill="#000" filter="url(#hedots)"/><rect x="62.0" y="311.0" width="90.6" height="87.8" fill="#000" filter="url(#heblot)" opacity="0.6"/><g fill="#f4e8f4" opacity="0.3" filter="url(#bl3)"><ellipse cx="85" cy="380" rx="22" ry="16"/><ellipse cx="120" cy="365" rx="14" ry="12"/></g><g fill="#6a3a9a" opacity="0.35" filter="url(#bl3)"><ellipse cx="80" cy="330" rx="16" ry="12"/><ellipse cx="125" cy="345" rx="14" ry="8"/><ellipse cx="90" cy="385" rx="12" ry="7"/></g><path d="M82,311 L82,312.2 Q87,312.2 90,313 L91.5,316.5 Q93,312 100,311.6 Q106,311.8 109.6,316.7 Q112,312 118,311.6 Q124,312 127,317.4 Q130,312 138,311.8 Q145,312 148,314 Q151,317 153,320 L153,311 Z" fill="#e4dbe8"/></g>
<g clip-path="url(#cp01)"><rect x="156.7" y="311.0" width="90.6" height="87.8" fill="#06060e"/><g mask="url(#m_r1c2)"><g transform="rotate(-40 202 355)"><rect x="130" y="290" width="150" height="140" filter="url(#ifg)"/></g><g transform="rotate(-70 202 355)" opacity="0.8"><rect x="130" y="290" width="150" height="140" filter="url(#ifgB)"/></g></g><g mask="url(#m_r1c2b)"><rect x="156.7" y="311.0" width="90.6" height="87.8" fill="#000" filter="url(#ifgm)"/></g><rect x="156.7" y="311.0" width="90.6" height="87.8" fill="#000" filter="url(#ifb)"/><g fill="#1c30a8" opacity="0.35" filter="url(#bl3)"><ellipse cx="235" cy="350" rx="10" ry="16"/><ellipse cx="205" cy="322" rx="18" ry="8"/></g><rect x="156.7" y="311.0" width="90.6" height="87.8" fill="#000" filter="url(#ifr)" opacity="0.5"/><path d="M236,311 Q245,312 248,321 L248,311 Z" fill="#000"/></g>
<g clip-path="url(#cp02)"><rect x="251.4" y="311.0" width="90.6" height="87.8" fill="#000" filter="url(#he40)"/><rect x="251.4" y="311.0" width="90.6" height="87.8" fill="#000" filter="url(#nuc40)"/></g>
<g clip-path="url(#cp03)"><rect x="346.0" y="311.0" width="90.6" height="87.8" fill="#05040a"/><rect x="346.0" y="311.0" width="90.6" height="87.8" fill="#000" filter="url(#ifnuc)"/><rect x="346.0" y="311.0" width="90.6" height="87.8" fill="#000" filter="url(#ifr40)" opacity="0.8"/><g mask="url(#m_r1c4)"><rect x="346.0" y="311.0" width="90.6" height="87.8" fill="#145a30"/><rect x="346.0" y="311.0" width="90.6" height="87.8" fill="#000" filter="url(#ifmem)"/><rect x="346.0" y="311.0" width="90.6" height="87.8" fill="#000" filter="url(#nucR2)" opacity="0.6"/></g><g fill="#e8e8f0" filter="url(#bl1)"><circle cx="399" cy="330" r="1.4"/><circle cx="388" cy="346" r="1.3"/><circle cx="405" cy="338" r="1.2"/><circle cx="370" cy="342" r="1.1"/><circle cx="392" cy="350" r="1.1"/></g></g>
<g clip-path="url(#cp10)"><rect x="62.0" y="405.3" width="90.6" height="87.8" fill="#000" filter="url(#he10b)"/><rect x="62.0" y="405.3" width="90.6" height="87.8" fill="#000" filter="url(#hedots)"/><rect x="62.0" y="405.3" width="90.6" height="87.8" fill="#000" filter="url(#heblot2)" opacity="0.4"/><rect x="62.0" y="405.3" width="90.6" height="87.8" fill="#f6ecf6" opacity="0.22"/><g fill="#8a2c86" opacity="0.62" filter="url(#bl1)"><path d="M63,407 Q80,404 96,410 Q108,416 112,428 Q106,434 96,430 Q84,424 76,428 Q68,432 63,426 Z"/><ellipse cx="128.5" cy="451" rx="10.5" ry="12"/><ellipse cx="95" cy="465" rx="13" ry="12.5"/><ellipse cx="67" cy="474" rx="5" ry="14"/><ellipse cx="104" cy="490" rx="11" ry="6"/></g><rect x="62.0" y="405.3" width="90.6" height="87.8" fill="#000" filter="url(#hedots)" opacity="0.6"/><g fill="#f0e6f0" filter="url(#bl1)"><path d="M62,481 Q72,481 80,485 Q88,489 90,494 L62,494 Z"/><path d="M72,440 Q70,434 78,428 L80,430 Q74,436 74,441 Z"/><path d="M143,470 L153,462 L153,468 Z"/></g></g>
<g clip-path="url(#cp11)"><rect x="156.7" y="405.3" width="90.6" height="87.8" fill="#05061c"/><rect x="156.7" y="405.3" width="90.6" height="87.8" fill="#000" filter="url(#ifb)"/><g mask="url(#m_r2c2)"><rect x="156.7" y="405.3" width="90.6" height="87.8" fill="#1f6f66"/><rect x="156.7" y="405.3" width="90.6" height="87.8" fill="#000" filter="url(#ifmem)" opacity="0.8"/><rect x="156.7" y="405.3" width="90.6" height="87.8" fill="#000" filter="url(#ifb)" opacity="0.6"/><rect x="156.7" y="405.3" width="90.6" height="87.8" fill="#000" filter="url(#ifyel)" opacity="0.6"/></g><rect x="156.7" y="405.3" width="90.6" height="87.8" fill="#000" filter="url(#ifr)" opacity="0.5"/><g fill="#d8d8e8"><circle cx="205" cy="420" r="0.7"/><circle cx="213" cy="455" r="0.7"/><circle cx="230" cy="470" r="0.7"/><circle cx="240" cy="430" r="0.7"/><circle cx="170" cy="440" r="0.7"/><circle cx="200" cy="478" r="0.7"/></g></g>
<g clip-path="url(#cp12)"><rect x="251.4" y="405.3" width="90.6" height="87.8" fill="#000" filter="url(#he40m)"/><g transform="rotate(35 297 449)"><rect x="220" y="375" width="155" height="150" filter="url(#fib40)"/><rect x="220" y="375" width="155" height="150" filter="url(#nucel)"/></g><g fill="#6a3090" opacity="0.6" filter="url(#bl2)"><ellipse cx="266" cy="488" rx="15" ry="10"/><ellipse cx="268" cy="412" rx="16" ry="7"/></g><path d="M342,405 L322,405 Q320,410 326,416 Q324,422 330,426 Q336,428 342,427 Z" fill="#eee6f0" filter="url(#bl1)"/></g>
<g clip-path="url(#cp13)"><rect x="346.0" y="405.3" width="90.6" height="87.8" fill="#03030a"/><g transform="rotate(35 391 449)"><rect x="320" y="380" width="145" height="140" filter="url(#nucIF)"/></g><g mask="url(#m_r2c4)"><rect x="346.0" y="405.3" width="90.6" height="87.8" fill="#1c7048"/><rect x="346.0" y="405.3" width="90.6" height="87.8" fill="#000" filter="url(#ifmem)" opacity="0.8"/><rect x="346.0" y="405.3" width="90.6" height="87.8" fill="#000" filter="url(#ifb3)" opacity="0.9"/></g><g mask="url(#m_r2c4b)"><rect x="346.0" y="405.3" width="90.6" height="87.8" fill="#1f8a2c"/><rect x="346.0" y="405.3" width="90.6" height="87.8" fill="#000" filter="url(#ifmem)"/></g><g fill="#ffffff" filter="url(#bl05)"><circle cx="352" cy="426" r="1.5"/><circle cx="365" cy="431" r="1.3"/><circle cx="378" cy="434" r="1.4"/><circle cx="380" cy="442" r="1.3"/><circle cx="371" cy="458" r="1.4"/><circle cx="400" cy="456" r="1.3"/><circle cx="401" cy="472" r="1.2"/><circle cx="392" cy="470" r="1.2"/><circle cx="393" cy="483" r="1.2"/><circle cx="365" cy="409" r="1.3"/><circle cx="411" cy="436" r="1"/></g></g>
<g clip-path="url(#cp20)"><rect x="62.0" y="499.5" width="90.6" height="87.8" fill="#000" filter="url(#he10m)"/><rect x="62.0" y="499.5" width="90.6" height="87.8" fill="#000" filter="url(#hedots)" opacity="0.7"/><rect x="62.0" y="499.5" width="90.6" height="87.8" fill="#000" filter="url(#heblot2)" opacity="0.5"/><g fill="#e6c4e4" filter="url(#bl1)"><ellipse cx="87" cy="520" rx="5.5" ry="8"/><ellipse cx="70" cy="546" rx="3" ry="8"/><ellipse cx="131" cy="520" rx="5" ry="6"/><ellipse cx="146" cy="520" rx="4" ry="7"/><ellipse cx="100" cy="540" rx="8" ry="4" opacity="0.6"/><ellipse cx="120" cy="535" rx="4" ry="4" opacity="0.7"/></g><g fill="#f0e8f0" filter="url(#bl05)"><path d="M62,568 Q70,565 78,564 Q86,562 92,566 Q100,572 104,580 Q106,585 108,588 L62,588 Z"/><path d="M137,546 Q145,538 153,535 L153,541 Q146,544 141,548 Z"/><path d="M134,588 Q138,572 142,563 Q147,556 150,553 L153,552 L153,588 Z"/><path d="M130,560 Q135,565 133,575 L131,575 Q132,566 128,561 Z"/></g><g fill="#c890c8" opacity="0.7"><circle cx="80" cy="578" r="2.5"/><circle cx="90" cy="583" r="2.5"/><circle cx="72" cy="584" r="2"/></g></g>
<g clip-path="url(#cp21)"><rect x="156.7" y="499.5" width="90.6" height="87.8" fill="#05061a"/><rect x="156.7" y="499.5" width="90.6" height="87.8" fill="#000" filter="url(#ifnuc2)" opacity="0.4"/><g mask="url(#m_r3c2)"><rect x="156.7" y="499.5" width="90.6" height="87.8" fill="#1c6266"/><rect x="156.7" y="499.5" width="90.6" height="87.8" fill="#000" filter="url(#ifg2)" opacity="0.4"/><rect x="156.7" y="499.5" width="90.6" height="87.8" fill="#000" filter="url(#ifg3)"/><rect x="156.7" y="499.5" width="90.6" height="87.8" fill="#000" filter="url(#ifb3)"/></g></g>
<g clip-path="url(#cp22)"><rect x="251.4" y="499.5" width="90.6" height="87.8" fill="#000" filter="url(#he40)"/><rect x="251.4" y="499.5" width="90.6" height="87.8" fill="#000" filter="url(#nuc40c)"/><g fill="#f4eef4" filter="url(#bl1)"><path d="M295,530 Q315,525 336,529 Q337,536 315,539 Q298,540 295,530 Z"/><path d="M277,546 Q287,541 292,551 Q296,566 291,573 Q282,571 279,560 Z"/><ellipse cx="311" cy="515" rx="6" ry="4"/><ellipse cx="268" cy="514" rx="4" ry="4"/><ellipse cx="329" cy="570" rx="7" ry="5"/><ellipse cx="290" cy="503" rx="5" ry="3"/><ellipse cx="318" cy="553" rx="4" ry="3"/></g></g>
<g clip-path="url(#cp23)"><rect x="346.0" y="499.5" width="90.6" height="87.8" fill="#03030c"/><rect x="346.0" y="499.5" width="90.6" height="87.8" fill="#000" filter="url(#nucR)"/><g mask="url(#m_r3c4)"><rect x="346.0" y="499.5" width="90.6" height="87.8" fill="#123e58"/><rect x="346.0" y="499.5" width="90.6" height="87.8" fill="#000" filter="url(#ifmem)" opacity="0.75"/><rect x="346.0" y="499.5" width="90.6" height="87.8" fill="#000" filter="url(#nucR2)"/></g></g>
<rect x="100.3" y="322.2" width="18.9" height="18.4" fill="none" stroke="#fff" stroke-width="1.3"/>
<rect x="196.6" y="322.2" width="19.1" height="18.4" fill="none" stroke="#fff" stroke-width="1.3"/>
<rect x="98.2" y="440.3" width="18.9" height="18.0" fill="none" stroke="#fff" stroke-width="1.3"/>
<rect x="195.5" y="438.6" width="20.1" height="20.0" fill="none" stroke="#fff" stroke-width="1.3"/>
<rect x="120.4" y="506" width="18.4" height="18.5" fill="none" stroke="#fff" stroke-width="1.3"/>
<rect x="219.3" y="514.2" width="19.0" height="18.1" fill="none" stroke="#fff" stroke-width="1.3"/>
<rect x="124.1" y="391.8" width="25.3" height="2.1" fill="#fff"/>
<rect x="218.8" y="391.8" width="25.3" height="2.1" fill="#fff"/>
<rect x="313.5" y="391.8" width="25.3" height="2.1" fill="#fff"/>
<rect x="408.1" y="391.8" width="25.3" height="2.1" fill="#fff"/>
<rect x="124.1" y="486.1" width="25.3" height="2.1" fill="#fff"/>
<rect x="218.8" y="486.1" width="25.3" height="2.1" fill="#fff"/>
<rect x="313.5" y="486.1" width="25.3" height="2.1" fill="#fff"/>
<rect x="408.1" y="486.1" width="25.3" height="2.1" fill="#fff"/>
<rect x="124.1" y="580.3" width="25.3" height="2.1" fill="#fff"/>
<rect x="218.8" y="580.3" width="25.3" height="2.1" fill="#fff"/>
<rect x="313.5" y="580.3" width="25.3" height="2.1" fill="#fff"/>
<rect x="408.1" y="580.3" width="25.3" height="2.1" fill="#fff"/>
<text x="109.40" y="298.80" font-size="10.1" text-anchor="middle" fill="#231f20">H&amp;E ×10</text>
<text x="298.60" y="298.80" font-size="10.1" text-anchor="middle" fill="#231f20">H&amp;E ×40</text>
<text x="203.8" y="292.5" font-size="10.1" text-anchor="middle"><tspan fill="#2fb35a">PanCK </tspan><tspan fill="#fff" stroke="#222" stroke-width="1.5" paint-order="stroke" stroke-linejoin="round">FOXP3</tspan></text>
<text x="203.8" y="304.6" font-size="10.1" text-anchor="middle"><tspan fill="#f03232">CD68 </tspan><tspan fill="#e8e400" stroke="#222" stroke-width="1.5" paint-order="stroke" stroke-linejoin="round">PDL1</tspan></text>
<text x="393.5" y="292.5" font-size="10.1" text-anchor="middle"><tspan fill="#2fb35a">PanCK </tspan><tspan fill="#fff" stroke="#222" stroke-width="1.5" paint-order="stroke" stroke-linejoin="round">FOXP3</tspan></text>
<text x="393.5" y="304.6" font-size="10.1" text-anchor="middle"><tspan fill="#f03232">CD68 </tspan><tspan fill="#e8e400" stroke="#222" stroke-width="1.5" paint-order="stroke" stroke-linejoin="round">PDL1</tspan></text>
<text transform="translate(44.2,358.5) rotate(-90)" font-size="10.1" text-anchor="middle" fill="#231f20">T<tspan font-size="7.5" dy="2.6">reg</tspan><tspan dy="-2.6">-high,</tspan></text>
<text transform="translate(56.6,358.5) rotate(-90)" font-size="10.1" text-anchor="middle" fill="#231f20">myeloid-high</text>
<text transform="translate(44.2,448.5) rotate(-90)" font-size="10.1" text-anchor="middle" fill="#231f20">T<tspan font-size="7.5" dy="2.6">reg</tspan><tspan dy="-2.6">-high,</tspan></text>
<text transform="translate(56.6,448.5) rotate(-90)" font-size="10.1" text-anchor="middle" fill="#231f20">myloid-low</text>
<text transform="translate(44.2,541.5) rotate(-90)" font-size="10.1" text-anchor="middle" fill="#231f20">T<tspan font-size="7.5" dy="2.6">reg</tspan><tspan dy="-2.6">-low,</tspan></text>
<text transform="translate(56.6,541.5) rotate(-90)" font-size="10.1" text-anchor="middle" fill="#231f20">myeloid-low</text>
<text x="468.40" y="324.30" font-size="16.4" font-weight="bold" fill="#000" stroke="#000" stroke-width="0.35">d</text>
<line x1="523.30" y1="318.40" x2="523.30" y2="476.20" stroke="#231f20" stroke-width="1.1"/>
<line x1="522.80" y1="476.10" x2="676.00" y2="476.10" stroke="#231f20" stroke-width="1.3"/>
<line x1="520.00" y1="326.00" x2="523.30" y2="326.00" stroke="#231f20" stroke-width="1"/>
<text x="517.00" y="329.40" font-size="10.1" text-anchor="end" fill="#231f20">1.00</text>
<line x1="520.00" y1="361.77" x2="523.30" y2="361.77" stroke="#231f20" stroke-width="1"/>
<text x="517.00" y="365.17" font-size="10.1" text-anchor="end" fill="#231f20">0.75</text>
<line x1="520.00" y1="397.55" x2="523.30" y2="397.55" stroke="#231f20" stroke-width="1"/>
<text x="517.00" y="400.95" font-size="10.1" text-anchor="end" fill="#231f20">0.50</text>
<line x1="520.00" y1="433.32" x2="523.30" y2="433.32" stroke="#231f20" stroke-width="1"/>
<text x="517.00" y="436.72" font-size="10.1" text-anchor="end" fill="#231f20">0.25</text>
<line x1="520.00" y1="469.10" x2="523.30" y2="469.10" stroke="#231f20" stroke-width="1"/>
<text x="517.00" y="472.50" font-size="10.1" text-anchor="end" fill="#231f20">0</text>
<line x1="530.00" y1="475.70" x2="530.00" y2="478.90" stroke="#231f20" stroke-width="1"/>
<text x="530.00" y="490.80" font-size="10.1" text-anchor="middle" fill="#231f20">0</text>
<line x1="550.82" y1="475.70" x2="550.82" y2="478.90" stroke="#231f20" stroke-width="1"/>
<text x="550.82" y="490.80" font-size="10.1" text-anchor="middle" fill="#231f20">6</text>
<line x1="571.63" y1="475.70" x2="571.63" y2="478.90" stroke="#231f20" stroke-width="1"/>
<text x="571.63" y="490.80" font-size="10.1" text-anchor="middle" fill="#231f20">12</text>
<line x1="592.45" y1="475.70" x2="592.45" y2="478.90" stroke="#231f20" stroke-width="1"/>
<text x="592.45" y="490.80" font-size="10.1" text-anchor="middle" fill="#231f20">18</text>
<line x1="613.27" y1="475.70" x2="613.27" y2="478.90" stroke="#231f20" stroke-width="1"/>
<text x="613.27" y="490.80" font-size="10.1" text-anchor="middle" fill="#231f20">24</text>
<line x1="634.08" y1="475.70" x2="634.08" y2="478.90" stroke="#231f20" stroke-width="1"/>
<text x="634.08" y="490.80" font-size="10.1" text-anchor="middle" fill="#231f20">30</text>
<line x1="654.90" y1="475.70" x2="654.90" y2="478.90" stroke="#231f20" stroke-width="1"/>
<text x="654.90" y="490.80" font-size="10.1" text-anchor="middle" fill="#231f20">36</text>
<text x="599.50" y="503.50" font-size="10.1" text-anchor="middle" fill="#231f20">Time after treatment start (months)</text>
<text transform="translate(491.70,399.15) rotate(-90)" font-size="10.1" text-anchor="middle" fill="#231f20">OS</text>
<text x="524.10" y="517.80" font-size="10.1" fill="#231f20">Number at risk</text>
<text x="470.40" y="529.80" font-size="10.45" fill="#231f20">T + A low</text>
<line x1="456.00" y1="526.20" x2="461.10" y2="526.20" stroke="#2d4d72" stroke-width="1.2"/>
<line x1="461.10" y1="522.40" x2="461.10" y2="530.00" stroke="#2d4d72" stroke-width="1.1"/>
<text x="531.70" y="530.70" font-size="9.1" text-anchor="middle" fill="#231f20">25</text>
<text x="552.52" y="530.70" font-size="9.1" text-anchor="middle" fill="#231f20">20</text>
<text x="573.33" y="530.70" font-size="9.1" text-anchor="middle" fill="#231f20">16</text>
<text x="594.15" y="530.70" font-size="9.1" text-anchor="middle" fill="#231f20">12</text>
<text x="614.97" y="530.70" font-size="9.1" text-anchor="middle" fill="#231f20">10</text>
<text x="635.78" y="530.70" font-size="9.1" text-anchor="middle" fill="#231f20">7</text>
<text x="656.60" y="530.70" font-size="9.1" text-anchor="middle" fill="#231f20">0</text>
<text x="470.40" y="539.30" font-size="10.45" fill="#231f20">P + A low</text>
<line x1="456.00" y1="535.70" x2="461.10" y2="535.70" stroke="#d6a13a" stroke-width="1.2"/>
<line x1="461.10" y1="531.90" x2="461.10" y2="539.50" stroke="#d6a13a" stroke-width="1.1"/>
<text x="531.70" y="540.20" font-size="9.1" text-anchor="middle" fill="#231f20">27</text>
<text x="552.52" y="540.20" font-size="9.1" text-anchor="middle" fill="#231f20">20</text>
<text x="573.33" y="540.20" font-size="9.1" text-anchor="middle" fill="#231f20">17</text>
<text x="594.15" y="540.20" font-size="9.1" text-anchor="middle" fill="#231f20">12</text>
<text x="614.97" y="540.20" font-size="9.1" text-anchor="middle" fill="#231f20">12</text>
<text x="635.78" y="540.20" font-size="9.1" text-anchor="middle" fill="#231f20">4</text>
<text x="656.60" y="540.20" font-size="9.1" text-anchor="middle" fill="#231f20">0</text>
<text x="470.40" y="549.10" font-size="10.45" fill="#231f20">T + A high</text>
<line x1="456.00" y1="545.50" x2="468.60" y2="545.50" stroke="#2d4d72" stroke-width="1.3"/>
<line x1="461.30" y1="541.10" x2="461.30" y2="549.90" stroke="#2d4d72" stroke-width="1.2"/>
<text x="531.70" y="550.00" font-size="9.1" text-anchor="middle" fill="#231f20">28</text>
<text x="552.52" y="550.00" font-size="9.1" text-anchor="middle" fill="#231f20">24</text>
<text x="573.33" y="550.00" font-size="9.1" text-anchor="middle" fill="#231f20">20</text>
<text x="594.15" y="550.00" font-size="9.1" text-anchor="middle" fill="#231f20">18</text>
<text x="614.97" y="550.00" font-size="9.1" text-anchor="middle" fill="#231f20">18</text>
<text x="635.78" y="550.00" font-size="9.1" text-anchor="middle" fill="#231f20">11</text>
<text x="656.60" y="550.00" font-size="9.1" text-anchor="middle" fill="#231f20">0</text>
<text x="470.40" y="558.70" font-size="10.45" fill="#231f20">P + A high</text>
<line x1="456.00" y1="555.10" x2="468.60" y2="555.10" stroke="#d6a13a" stroke-width="1.3"/>
<line x1="461.30" y1="550.70" x2="461.30" y2="559.50" stroke="#d6a13a" stroke-width="1.2"/>
<text x="531.70" y="559.60" font-size="9.1" text-anchor="middle" fill="#231f20">25</text>
<text x="552.52" y="559.60" font-size="9.1" text-anchor="middle" fill="#231f20">16</text>
<text x="573.33" y="559.60" font-size="9.1" text-anchor="middle" fill="#231f20">12</text>
<text x="594.15" y="559.60" font-size="9.1" text-anchor="middle" fill="#231f20">8</text>
<text x="614.97" y="559.60" font-size="9.1" text-anchor="middle" fill="#231f20">5</text>
<text x="635.78" y="559.60" font-size="9.1" text-anchor="middle" fill="#231f20">3</text>
<text x="656.60" y="559.60" font-size="9.1" text-anchor="middle" fill="#231f20">0</text>
<line x1="574.70" y1="397.55" x2="574.70" y2="469.10" stroke="#111" stroke-width="1.45" stroke-dasharray="4.2,5.1" stroke-dashoffset="-1.5"/>
<line x1="580.20" y1="397.55" x2="580.20" y2="469.10" stroke="#111" stroke-width="1.45" stroke-dasharray="4.2,5.1" stroke-dashoffset="-1.5"/>
<line x1="597.30" y1="397.55" x2="597.30" y2="469.10" stroke="#111" stroke-width="1.45" stroke-dasharray="4.2,5.1" stroke-dashoffset="-1.5"/>
<line x1="639.30" y1="397.55" x2="639.30" y2="469.10" stroke="#111" stroke-width="1.45" stroke-dasharray="4.2,5.1" stroke-dashoffset="-1.5"/>
<polyline points="532.04,324.85 541.90,324.85 541.90,342.37 544.09,342.37 544.09,348.94 546.28,348.94 546.28,356.60 550.65,356.60 550.65,360.98 563.79,360.98 563.79,374.12 572.55,374.12 572.55,378.50 575.84,378.50 575.84,385.07 579.12,385.07 579.12,399.30 587.88,399.30 587.88,400.40 596.64,400.40 596.64,404.77 617.44,404.77 617.44,411.34 625.10,411.34 625.10,415.72 629.48,415.72 629.48,427.77 649.19,427.77 649.19,427.77" fill="none" stroke="#d6a13a" stroke-width="1.05" stroke-dasharray="5.5,4.5"/>
<line x1="572.55" y1="376.10" x2="572.55" y2="380.90" stroke="#d6a13a" stroke-width="0.9"/>
<line x1="630.58" y1="425.37" x2="630.58" y2="430.17" stroke="#d6a13a" stroke-width="0.9"/>
<line x1="633.86" y1="425.37" x2="633.86" y2="430.17" stroke="#d6a13a" stroke-width="0.9"/>
<line x1="638.24" y1="425.37" x2="638.24" y2="430.17" stroke="#d6a13a" stroke-width="0.9"/>
<line x1="641.52" y1="425.37" x2="641.52" y2="430.17" stroke="#d6a13a" stroke-width="0.9"/>
<line x1="644.81" y1="425.37" x2="644.81" y2="430.17" stroke="#d6a13a" stroke-width="0.9"/>
<line x1="647.00" y1="425.37" x2="647.00" y2="430.17" stroke="#d6a13a" stroke-width="0.9"/>
<polyline points="532.04,324.85 540.80,324.85 540.80,328.14 541.90,328.14 541.90,331.42 544.09,331.42 544.09,335.80 546.28,335.80 546.28,336.90 548.47,336.90 548.47,347.84 553.94,347.84 553.94,354.41 558.32,354.41 558.32,365.36 563.79,365.36 563.79,371.93 572.55,371.93 572.55,378.50 576.93,378.50 576.93,385.07 589.63,385.07 589.63,389.45 596.64,389.45 596.64,397.11 603.21,397.11 603.21,402.58 616.34,402.58 616.34,411.34 622.91,411.34 622.91,415.72 629.48,415.72 629.48,421.20 651.38,421.20 651.38,421.20" fill="none" stroke="#3d3d7e" stroke-width="1.05" stroke-dasharray="5.5,4.5"/>
<line x1="610.87" y1="402.37" x2="610.87" y2="407.17" stroke="#3d3d7e" stroke-width="0.9"/>
<line x1="631.67" y1="418.80" x2="631.67" y2="423.60" stroke="#3d3d7e" stroke-width="0.9"/>
<line x1="633.86" y1="418.80" x2="633.86" y2="423.60" stroke="#3d3d7e" stroke-width="0.9"/>
<line x1="636.05" y1="418.80" x2="636.05" y2="423.60" stroke="#3d3d7e" stroke-width="0.9"/>
<line x1="644.81" y1="418.80" x2="644.81" y2="423.60" stroke="#3d3d7e" stroke-width="0.9"/>
<line x1="647.00" y1="418.80" x2="647.00" y2="423.60" stroke="#3d3d7e" stroke-width="0.9"/>
<line x1="650.28" y1="418.80" x2="650.28" y2="423.60" stroke="#3d3d7e" stroke-width="0.9"/>
<polyline points="530.95,324.85 534.23,324.85 534.23,330.33 540.80,330.33 540.80,331.42 541.90,331.42 541.90,336.90 542.99,336.90 542.99,343.47 544.09,343.47 544.09,350.03 545.84,350.03 545.84,358.79 546.28,358.79 546.28,368.65 558.98,368.65 558.98,374.12 564.89,374.12 564.89,387.26 565.98,387.26 565.98,393.83 575.84,393.83 575.84,399.30 579.12,399.30 579.12,405.87 580.87,405.87 580.87,411.34 590.07,411.34 590.07,417.91 594.01,417.91 594.01,424.48 601.45,424.48 601.45,431.05 611.53,431.05 611.53,437.62 621.16,437.62 621.16,444.19 649.19,444.19 649.19,444.19" fill="none" stroke="#d6a13a" stroke-width="1.05"/>
<line x1="628.39" y1="441.79" x2="628.39" y2="446.59" stroke="#d6a13a" stroke-width="0.9"/>
<line x1="633.86" y1="441.79" x2="633.86" y2="446.59" stroke="#d6a13a" stroke-width="0.9"/>
<line x1="639.33" y1="441.79" x2="639.33" y2="446.59" stroke="#d6a13a" stroke-width="0.9"/>
<line x1="642.62" y1="441.79" x2="642.62" y2="446.59" stroke="#d6a13a" stroke-width="0.9"/>
<line x1="645.90" y1="441.79" x2="645.90" y2="446.59" stroke="#d6a13a" stroke-width="0.9"/>
<polyline points="532.04,324.85 534.23,324.85 534.23,330.33 539.71,330.33 539.71,331.42 541.90,331.42 541.90,336.90 546.28,336.90 546.28,339.09 550.65,339.09 550.65,342.37 552.84,342.37 552.84,345.65 560.51,345.65 560.51,351.13 570.80,351.13 570.80,356.60 571.46,356.60 571.46,362.08 585.25,362.08 585.25,367.55 589.63,367.55 589.63,373.02 614.59,373.02 614.59,378.50 634.96,378.50 634.96,388.35 639.33,388.35 639.33,399.30 653.57,399.30 653.57,468.27" fill="none" stroke="#3d3d7e" stroke-width="1.05"/>
<line x1="629.48" y1="376.10" x2="629.48" y2="380.90" stroke="#3d3d7e" stroke-width="0.9"/>
<line x1="631.67" y1="376.10" x2="631.67" y2="380.90" stroke="#3d3d7e" stroke-width="0.9"/>
<line x1="633.86" y1="376.10" x2="633.86" y2="380.90" stroke="#3d3d7e" stroke-width="0.9"/>
<line x1="634.96" y1="385.95" x2="634.96" y2="390.75" stroke="#3d3d7e" stroke-width="0.9"/>
<line x1="643.71" y1="396.90" x2="643.71" y2="401.70" stroke="#3d3d7e" stroke-width="0.9"/>
<line x1="645.90" y1="396.90" x2="645.90" y2="401.70" stroke="#3d3d7e" stroke-width="0.9"/>
<line x1="647.00" y1="396.90" x2="647.00" y2="401.70" stroke="#3d3d7e" stroke-width="0.9"/>
<line x1="649.19" y1="396.90" x2="649.19" y2="401.70" stroke="#3d3d7e" stroke-width="0.9"/>
<text x="0.40" y="613.50" font-size="16.4" font-weight="bold" fill="#000" stroke="#000" stroke-width="0.35">e</text>
<line x1="64.20" y1="608.30" x2="64.20" y2="766.10" stroke="#231f20" stroke-width="1.1"/>
<line x1="63.70" y1="766.00" x2="216.90" y2="766.00" stroke="#231f20" stroke-width="1.3"/>
<line x1="60.90" y1="615.90" x2="64.20" y2="615.90" stroke="#231f20" stroke-width="1"/>
<text x="57.90" y="619.30" font-size="10.1" text-anchor="end" fill="#231f20">1.00</text>
<line x1="60.90" y1="651.67" x2="64.20" y2="651.67" stroke="#231f20" stroke-width="1"/>
<text x="57.90" y="655.07" font-size="10.1" text-anchor="end" fill="#231f20">0.75</text>
<line x1="60.90" y1="687.45" x2="64.20" y2="687.45" stroke="#231f20" stroke-width="1"/>
<text x="57.90" y="690.85" font-size="10.1" text-anchor="end" fill="#231f20">0.50</text>
<line x1="60.90" y1="723.23" x2="64.20" y2="723.23" stroke="#231f20" stroke-width="1"/>
<text x="57.90" y="726.62" font-size="10.1" text-anchor="end" fill="#231f20">0.25</text>
<line x1="60.90" y1="759.00" x2="64.20" y2="759.00" stroke="#231f20" stroke-width="1"/>
<text x="57.90" y="762.40" font-size="10.1" text-anchor="end" fill="#231f20">0</text>
<line x1="70.90" y1="765.60" x2="70.90" y2="768.80" stroke="#231f20" stroke-width="1"/>
<text x="70.90" y="780.70" font-size="10.1" text-anchor="middle" fill="#231f20">0</text>
<line x1="91.72" y1="765.60" x2="91.72" y2="768.80" stroke="#231f20" stroke-width="1"/>
<text x="91.72" y="780.70" font-size="10.1" text-anchor="middle" fill="#231f20">6</text>
<line x1="112.53" y1="765.60" x2="112.53" y2="768.80" stroke="#231f20" stroke-width="1"/>
<text x="112.53" y="780.70" font-size="10.1" text-anchor="middle" fill="#231f20">12</text>
<line x1="133.35" y1="765.60" x2="133.35" y2="768.80" stroke="#231f20" stroke-width="1"/>
<text x="133.35" y="780.70" font-size="10.1" text-anchor="middle" fill="#231f20">18</text>
<line x1="154.17" y1="765.60" x2="154.17" y2="768.80" stroke="#231f20" stroke-width="1"/>
<text x="154.17" y="780.70" font-size="10.1" text-anchor="middle" fill="#231f20">24</text>
<line x1="174.98" y1="765.60" x2="174.98" y2="768.80" stroke="#231f20" stroke-width="1"/>
<text x="174.98" y="780.70" font-size="10.1" text-anchor="middle" fill="#231f20">30</text>
<line x1="195.80" y1="765.60" x2="195.80" y2="768.80" stroke="#231f20" stroke-width="1"/>
<text x="195.80" y="780.70" font-size="10.1" text-anchor="middle" fill="#231f20">36</text>
<text x="140.40" y="793.40" font-size="10.1" text-anchor="middle" fill="#231f20">Time after treatment start (months)</text>
<text transform="translate(29.60,686.45) rotate(-90)" font-size="10.1" text-anchor="middle" fill="#231f20">OS</text>
<text x="68.40" y="809.50" font-size="10.1" fill="#231f20">Number at risk</text>
<text x="17.00" y="819.70" font-size="10.45" fill="#231f20">T + A low</text>
<line x1="2.60" y1="816.10" x2="7.70" y2="816.10" stroke="#2d4d72" stroke-width="1.2"/>
<line x1="7.70" y1="812.30" x2="7.70" y2="819.90" stroke="#2d4d72" stroke-width="1.1"/>
<text x="72.60" y="820.60" font-size="9.1" text-anchor="middle" fill="#231f20">26</text>
<text x="93.42" y="820.60" font-size="9.1" text-anchor="middle" fill="#231f20">19</text>
<text x="114.23" y="820.60" font-size="9.1" text-anchor="middle" fill="#231f20">13</text>
<text x="135.05" y="820.60" font-size="9.1" text-anchor="middle" fill="#231f20">11</text>
<text x="155.87" y="820.60" font-size="9.1" text-anchor="middle" fill="#231f20">10</text>
<text x="176.68" y="820.60" font-size="9.1" text-anchor="middle" fill="#231f20">6</text>
<text x="197.50" y="820.60" font-size="9.1" text-anchor="middle" fill="#231f20">0</text>
<text x="17.00" y="829.20" font-size="10.45" fill="#231f20">P + A low</text>
<line x1="2.60" y1="825.60" x2="7.70" y2="825.60" stroke="#d6a13a" stroke-width="1.2"/>
<line x1="7.70" y1="821.80" x2="7.70" y2="829.40" stroke="#d6a13a" stroke-width="1.1"/>
<text x="72.60" y="830.10" font-size="9.1" text-anchor="middle" fill="#231f20">26</text>
<text x="93.42" y="830.10" font-size="9.1" text-anchor="middle" fill="#231f20">15</text>
<text x="114.23" y="830.10" font-size="9.1" text-anchor="middle" fill="#231f20">12</text>
<text x="135.05" y="830.10" font-size="9.1" text-anchor="middle" fill="#231f20">9</text>
<text x="155.87" y="830.10" font-size="9.1" text-anchor="middle" fill="#231f20">9</text>
<text x="176.68" y="830.10" font-size="9.1" text-anchor="middle" fill="#231f20">4</text>
<text x="197.50" y="830.10" font-size="9.1" text-anchor="middle" fill="#231f20">0</text>
<text x="17.00" y="839.00" font-size="10.45" fill="#231f20">T + A high</text>
<line x1="2.60" y1="835.40" x2="15.20" y2="835.40" stroke="#2d4d72" stroke-width="1.3"/>
<line x1="7.90" y1="831.00" x2="7.90" y2="839.80" stroke="#2d4d72" stroke-width="1.2"/>
<text x="72.60" y="839.90" font-size="9.1" text-anchor="middle" fill="#231f20">27</text>
<text x="93.42" y="839.90" font-size="9.1" text-anchor="middle" fill="#231f20">25</text>
<text x="114.23" y="839.90" font-size="9.1" text-anchor="middle" fill="#231f20">23</text>
<text x="135.05" y="839.90" font-size="9.1" text-anchor="middle" fill="#231f20">19</text>
<text x="155.87" y="839.90" font-size="9.1" text-anchor="middle" fill="#231f20">18</text>
<text x="176.68" y="839.90" font-size="9.1" text-anchor="middle" fill="#231f20">12</text>
<text x="197.50" y="839.90" font-size="9.1" text-anchor="middle" fill="#231f20">0</text>
<text x="17.00" y="848.60" font-size="10.45" fill="#231f20">P + A high</text>
<line x1="2.60" y1="845.00" x2="15.20" y2="845.00" stroke="#d6a13a" stroke-width="1.3"/>
<line x1="7.90" y1="840.60" x2="7.90" y2="849.40" stroke="#d6a13a" stroke-width="1.2"/>
<text x="72.60" y="849.50" font-size="9.1" text-anchor="middle" fill="#231f20">26</text>
<text x="93.42" y="849.50" font-size="9.1" text-anchor="middle" fill="#231f20">21</text>
<text x="114.23" y="849.50" font-size="9.1" text-anchor="middle" fill="#231f20">17</text>
<text x="135.05" y="849.50" font-size="9.1" text-anchor="middle" fill="#231f20">11</text>
<text x="155.87" y="849.50" font-size="9.1" text-anchor="middle" fill="#231f20">8</text>
<text x="176.68" y="849.50" font-size="9.1" text-anchor="middle" fill="#231f20">3</text>
<text x="197.50" y="849.50" font-size="9.1" text-anchor="middle" fill="#231f20">0</text>
<line x1="104.50" y1="687.45" x2="104.50" y2="759.00" stroke="#111" stroke-width="1.45" stroke-dasharray="4.2,5.1" stroke-dashoffset="-1.5"/>
<line x1="114.10" y1="687.45" x2="114.10" y2="759.00" stroke="#111" stroke-width="1.45" stroke-dasharray="4.2,5.1" stroke-dashoffset="-1.5"/>
<line x1="130.90" y1="687.45" x2="130.90" y2="759.00" stroke="#111" stroke-width="1.45" stroke-dasharray="4.2,5.1" stroke-dashoffset="-1.5"/>
<line x1="195.40" y1="687.45" x2="195.40" y2="759.00" stroke="#111" stroke-width="1.45" stroke-dasharray="4.2,5.1" stroke-dashoffset="-1.5"/>
<polyline points="73.20,615.77 81.37,615.77 81.37,621.28 82.39,621.28 82.39,632.12 85.46,632.12 85.46,639.68 86.48,639.68 86.48,650.92 87.50,650.92 87.50,666.25 93.63,666.25 93.63,673.40 99.77,673.40 99.77,678.51 100.79,678.51 100.79,684.64 103.85,684.64 103.85,689.75 114.07,689.75 114.07,694.86 115.09,694.86 115.09,700.99 123.27,700.99 123.27,707.12 131.44,707.12 131.44,707.12 164.14,707.12 164.14,713.25 170.27,713.25 170.27,719.38 184.58,719.38 184.58,719.38" fill="none" stroke="#d6a13a" stroke-width="1.05" stroke-dasharray="5.5,4.5"/>
<line x1="170.27" y1="710.85" x2="170.27" y2="715.65" stroke="#d6a13a" stroke-width="0.9"/>
<line x1="172.32" y1="716.98" x2="172.32" y2="721.78" stroke="#d6a13a" stroke-width="0.9"/>
<line x1="175.38" y1="716.98" x2="175.38" y2="721.78" stroke="#d6a13a" stroke-width="0.9"/>
<line x1="178.45" y1="716.98" x2="178.45" y2="721.78" stroke="#d6a13a" stroke-width="0.9"/>
<line x1="181.51" y1="716.98" x2="181.51" y2="721.78" stroke="#d6a13a" stroke-width="0.9"/>
<polyline points="72.17,615.77 78.31,615.77 78.31,620.26 84.44,620.26 84.44,628.44 86.48,628.44 86.48,637.63 89.55,637.63 89.55,648.87 92.61,648.87 92.61,660.73 100.79,660.73 100.79,667.27 105.90,667.27 105.90,673.40 106.92,673.40 106.92,678.51 112.64,678.51 112.64,684.64 116.12,684.64 116.12,689.75 117.14,689.75 117.14,695.47 151.88,695.47 151.88,697.92 156.99,697.92 156.99,702.01 158.01,702.01 158.01,707.12 169.87,707.12 169.87,712.64 179.47,712.64 179.47,719.38 184.58,719.38 184.58,724.49 191.73,724.49 191.73,724.49" fill="none" stroke="#3d3d7e" stroke-width="1.05" stroke-dasharray="5.5,4.5"/>
<line x1="171.30" y1="710.24" x2="171.30" y2="715.04" stroke="#3d3d7e" stroke-width="0.9"/>
<line x1="173.34" y1="710.24" x2="173.34" y2="715.04" stroke="#3d3d7e" stroke-width="0.9"/>
<line x1="175.38" y1="710.24" x2="175.38" y2="715.04" stroke="#3d3d7e" stroke-width="0.9"/>
<line x1="177.43" y1="710.24" x2="177.43" y2="715.04" stroke="#3d3d7e" stroke-width="0.9"/>
<line x1="186.62" y1="722.09" x2="186.62" y2="726.89" stroke="#3d3d7e" stroke-width="0.9"/>
<line x1="189.69" y1="722.09" x2="189.69" y2="726.89" stroke="#3d3d7e" stroke-width="0.9"/>
<line x1="191.73" y1="722.09" x2="191.73" y2="726.89" stroke="#3d3d7e" stroke-width="0.9"/>
<polyline points="72.17,615.77 73.81,615.77 73.81,621.28 81.37,621.28 81.37,627.42 87.50,627.42 87.50,628.44 88.52,628.44 88.52,633.55 89.55,633.55 89.55,638.25 100.79,638.25 100.79,644.79 103.85,644.79 103.85,645.81 104.87,645.81 104.87,650.92 105.90,650.92 105.90,656.03 106.92,656.03 106.92,661.55 114.07,661.55 114.07,667.27 118.16,667.27 118.16,673.40 118.77,673.40 118.77,678.51 120.82,678.51 120.82,684.64 131.03,684.64 131.03,695.47 134.51,695.47 134.51,702.01 141.66,702.01 141.66,707.12 152.29,707.12 152.29,713.25 156.38,713.25 156.38,719.38 161.69,719.38 161.69,724.49 169.25,724.49 169.25,731.24 190.71,731.24 190.71,731.24" fill="none" stroke="#d6a13a" stroke-width="1.05"/>
<line x1="174.36" y1="728.84" x2="174.36" y2="733.64" stroke="#d6a13a" stroke-width="0.9"/>
<line x1="184.58" y1="728.84" x2="184.58" y2="733.64" stroke="#d6a13a" stroke-width="0.9"/>
<line x1="186.62" y1="728.84" x2="186.62" y2="733.64" stroke="#d6a13a" stroke-width="0.9"/>
<line x1="188.67" y1="728.84" x2="188.67" y2="733.64" stroke="#d6a13a" stroke-width="0.9"/>
<polyline points="72.17,615.77 78.31,615.77 78.31,620.26 99.77,620.26 99.77,626.39 110.60,626.39 110.60,631.50 125.31,631.50 125.31,637.63 130.42,637.63 130.42,647.85 131.44,647.85 131.44,653.98 138.60,653.98 138.60,659.09 155.97,659.09 155.97,665.22 176.00,665.22 176.00,675.03 194.80,675.03 194.80,758.83" fill="none" stroke="#3d3d7e" stroke-width="1.05"/>
<line x1="85.46" y1="617.86" x2="85.46" y2="622.66" stroke="#3d3d7e" stroke-width="0.9"/>
<line x1="170.27" y1="662.82" x2="170.27" y2="667.62" stroke="#3d3d7e" stroke-width="0.9"/>
<line x1="171.91" y1="662.82" x2="171.91" y2="667.62" stroke="#3d3d7e" stroke-width="0.9"/>
<line x1="175.38" y1="662.82" x2="175.38" y2="667.62" stroke="#3d3d7e" stroke-width="0.9"/>
<line x1="176.41" y1="662.82" x2="176.41" y2="667.62" stroke="#3d3d7e" stroke-width="0.9"/>
<line x1="176.41" y1="672.63" x2="176.41" y2="677.43" stroke="#3d3d7e" stroke-width="0.9"/>
<line x1="185.60" y1="672.63" x2="185.60" y2="677.43" stroke="#3d3d7e" stroke-width="0.9"/>
<line x1="187.65" y1="672.63" x2="187.65" y2="677.43" stroke="#3d3d7e" stroke-width="0.9"/>
<line x1="189.69" y1="672.63" x2="189.69" y2="677.43" stroke="#3d3d7e" stroke-width="0.9"/>
<line x1="191.73" y1="672.63" x2="191.73" y2="677.43" stroke="#3d3d7e" stroke-width="0.9"/>
<text x="234.40" y="613.30" font-size="16.4" font-weight="bold" fill="#000" stroke="#000" stroke-width="0.35">f</text>
<line x1="293.50" y1="608.30" x2="293.50" y2="766.10" stroke="#231f20" stroke-width="1.1"/>
<line x1="293.00" y1="766.00" x2="446.20" y2="766.00" stroke="#231f20" stroke-width="1.3"/>
<line x1="290.20" y1="615.90" x2="293.50" y2="615.90" stroke="#231f20" stroke-width="1"/>
<text x="287.20" y="621.10" font-size="10.1" text-anchor="end" fill="#231f20">1.00</text>
<line x1="290.20" y1="651.67" x2="293.50" y2="651.67" stroke="#231f20" stroke-width="1"/>
<text x="287.20" y="656.87" font-size="10.1" text-anchor="end" fill="#231f20">0.75</text>
<line x1="290.20" y1="687.45" x2="293.50" y2="687.45" stroke="#231f20" stroke-width="1"/>
<text x="287.20" y="692.65" font-size="10.1" text-anchor="end" fill="#231f20">0.50</text>
<line x1="290.20" y1="723.23" x2="293.50" y2="723.23" stroke="#231f20" stroke-width="1"/>
<text x="287.20" y="728.42" font-size="10.1" text-anchor="end" fill="#231f20">0.25</text>
<line x1="290.20" y1="759.00" x2="293.50" y2="759.00" stroke="#231f20" stroke-width="1"/>
<text x="287.20" y="764.20" font-size="10.1" text-anchor="end" fill="#231f20">0</text>
<line x1="300.20" y1="765.60" x2="300.20" y2="768.80" stroke="#231f20" stroke-width="1"/>
<text x="300.20" y="780.70" font-size="10.1" text-anchor="middle" fill="#231f20">0</text>
<line x1="321.02" y1="765.60" x2="321.02" y2="768.80" stroke="#231f20" stroke-width="1"/>
<text x="321.02" y="780.70" font-size="10.1" text-anchor="middle" fill="#231f20">6</text>
<line x1="341.83" y1="765.60" x2="341.83" y2="768.80" stroke="#231f20" stroke-width="1"/>
<text x="341.83" y="780.70" font-size="10.1" text-anchor="middle" fill="#231f20">12</text>
<line x1="362.65" y1="765.60" x2="362.65" y2="768.80" stroke="#231f20" stroke-width="1"/>
<text x="362.65" y="780.70" font-size="10.1" text-anchor="middle" fill="#231f20">18</text>
<line x1="383.47" y1="765.60" x2="383.47" y2="768.80" stroke="#231f20" stroke-width="1"/>
<text x="383.47" y="780.70" font-size="10.1" text-anchor="middle" fill="#231f20">24</text>
<line x1="404.28" y1="765.60" x2="404.28" y2="768.80" stroke="#231f20" stroke-width="1"/>
<text x="404.28" y="780.70" font-size="10.1" text-anchor="middle" fill="#231f20">30</text>
<line x1="425.10" y1="765.60" x2="425.10" y2="768.80" stroke="#231f20" stroke-width="1"/>
<text x="425.10" y="780.70" font-size="10.1" text-anchor="middle" fill="#231f20">36</text>
<text x="369.70" y="793.40" font-size="10.1" text-anchor="middle" fill="#231f20">Time after treatment start (months)</text>
<text transform="translate(258.90,686.45) rotate(-90)" font-size="10.1" text-anchor="middle" fill="#231f20">OS</text>
<text x="297.70" y="809.50" font-size="10.1" fill="#231f20">Number at risk</text>
<text x="241.80" y="819.70" font-size="10.45" fill="#231f20">T + A low</text>
<line x1="227.40" y1="816.10" x2="232.50" y2="816.10" stroke="#2d4d72" stroke-width="1.2"/>
<line x1="232.50" y1="812.30" x2="232.50" y2="819.90" stroke="#2d4d72" stroke-width="1.1"/>
<text x="301.90" y="820.60" font-size="9.1" text-anchor="middle" fill="#231f20">28</text>
<text x="322.72" y="820.60" font-size="9.1" text-anchor="middle" fill="#231f20">24</text>
<text x="343.53" y="820.60" font-size="9.1" text-anchor="middle" fill="#231f20">18</text>
<text x="364.35" y="820.60" font-size="9.1" text-anchor="middle" fill="#231f20">16</text>
<text x="385.17" y="820.60" font-size="9.1" text-anchor="middle" fill="#231f20">14</text>
<text x="405.98" y="820.60" font-size="9.1" text-anchor="middle" fill="#231f20">9</text>
<text x="426.80" y="820.60" font-size="9.1" text-anchor="middle" fill="#231f20">0</text>
<text x="241.80" y="829.20" font-size="10.45" fill="#231f20">P + A low</text>
<line x1="227.40" y1="825.60" x2="232.50" y2="825.60" stroke="#d6a13a" stroke-width="1.2"/>
<line x1="232.50" y1="821.80" x2="232.50" y2="829.40" stroke="#d6a13a" stroke-width="1.1"/>
<text x="301.90" y="830.10" font-size="9.1" text-anchor="middle" fill="#231f20">24</text>
<text x="322.72" y="830.10" font-size="9.1" text-anchor="middle" fill="#231f20">17</text>
<text x="343.53" y="830.10" font-size="9.1" text-anchor="middle" fill="#231f20">14</text>
<text x="364.35" y="830.10" font-size="9.1" text-anchor="middle" fill="#231f20">10</text>
<text x="385.17" y="830.10" font-size="9.1" text-anchor="middle" fill="#231f20">9</text>
<text x="405.98" y="830.10" font-size="9.1" text-anchor="middle" fill="#231f20">5</text>
<text x="426.80" y="830.10" font-size="9.1" text-anchor="middle" fill="#231f20">0</text>
<text x="241.80" y="839.00" font-size="10.45" fill="#231f20">T + A high</text>
<line x1="227.40" y1="835.40" x2="240.00" y2="835.40" stroke="#2d4d72" stroke-width="1.3"/>
<line x1="232.70" y1="831.00" x2="232.70" y2="839.80" stroke="#2d4d72" stroke-width="1.2"/>
<text x="301.90" y="839.90" font-size="9.1" text-anchor="middle" fill="#231f20">25</text>
<text x="322.72" y="839.90" font-size="9.1" text-anchor="middle" fill="#231f20">20</text>
<text x="343.53" y="839.90" font-size="9.1" text-anchor="middle" fill="#231f20">18</text>
<text x="364.35" y="839.90" font-size="9.1" text-anchor="middle" fill="#231f20">14</text>
<text x="385.17" y="839.90" font-size="9.1" text-anchor="middle" fill="#231f20">14</text>
<text x="405.98" y="839.90" font-size="9.1" text-anchor="middle" fill="#231f20">9</text>
<text x="426.80" y="839.90" font-size="9.1" text-anchor="middle" fill="#231f20">0</text>
<text x="241.80" y="848.60" font-size="10.45" fill="#231f20">P + A high</text>
<line x1="227.40" y1="845.00" x2="240.00" y2="845.00" stroke="#d6a13a" stroke-width="1.3"/>
<line x1="232.70" y1="840.60" x2="232.70" y2="849.40" stroke="#d6a13a" stroke-width="1.2"/>
<text x="301.90" y="849.50" font-size="9.1" text-anchor="middle" fill="#231f20">28</text>
<text x="322.72" y="849.50" font-size="9.1" text-anchor="middle" fill="#231f20">19</text>
<text x="343.53" y="849.50" font-size="9.1" text-anchor="middle" fill="#231f20">15</text>
<text x="364.35" y="849.50" font-size="9.1" text-anchor="middle" fill="#231f20">10</text>
<text x="385.17" y="849.50" font-size="9.1" text-anchor="middle" fill="#231f20">8</text>
<text x="405.98" y="849.50" font-size="9.1" text-anchor="middle" fill="#231f20">2</text>
<text x="426.80" y="849.50" font-size="9.1" text-anchor="middle" fill="#231f20">0</text>
<line x1="348.80" y1="687.45" x2="348.80" y2="759.00" stroke="#111" stroke-width="1.45" stroke-dasharray="4.2,5.1" stroke-dashoffset="-1.5"/>
<line x1="385.00" y1="687.45" x2="385.00" y2="759.00" stroke="#111" stroke-width="1.45" stroke-dasharray="4.2,5.1" stroke-dashoffset="-1.5"/>
<line x1="424.60" y1="687.45" x2="424.60" y2="759.00" stroke="#111" stroke-width="1.45" stroke-dasharray="4.2,5.1" stroke-dashoffset="-1.5"/>
<polyline points="301.15,616.17 313.42,616.17 313.42,630.48 317.50,630.48 317.50,651.94 321.59,651.94 321.59,659.09 323.63,659.09 323.63,663.18 328.74,663.18 328.74,666.25 329.77,666.25 329.77,669.31 335.90,669.31 335.90,675.44 347.14,675.44 347.14,679.53 349.18,679.53 349.18,687.71 354.29,687.71 354.29,692.82 370.64,692.82 370.64,702.01 373.71,702.01 373.71,705.08 393.12,705.08 393.12,708.14 394.14,708.14 394.14,711.21 399.25,711.21 399.25,714.27 400.27,714.27 400.27,717.34 416.62,717.34 416.62,717.34" fill="none" stroke="#d6a13a" stroke-width="1.05" stroke-dasharray="5.5,4.5"/>
<polyline points="303.20,616.17 306.26,616.17 306.26,620.26 309.33,620.26 309.33,625.37 319.55,625.37 319.55,628.44 320.57,628.44 320.57,634.57 326.70,634.57 326.70,640.70 327.72,640.70 327.72,646.83 329.77,646.83 329.77,651.94 342.03,651.94 342.03,658.07 344.07,658.07 344.07,667.27 347.14,667.27 347.14,673.81 367.57,673.81 367.57,678.51 381.88,678.51 381.88,679.53 381.88,679.53 381.88,684.64 384.95,684.64 384.95,689.75 386.99,689.75 386.99,691.79 392.10,691.79 392.10,694.86 400.27,694.86 400.27,700.38 409.47,700.38 409.47,710.19 421.73,710.19 421.73,710.19" fill="none" stroke="#3d3d7e" stroke-width="1.05" stroke-dasharray="5.5,4.5"/>
<line x1="401.30" y1="697.98" x2="401.30" y2="702.78" stroke="#3d3d7e" stroke-width="0.9"/>
<line x1="403.34" y1="697.98" x2="403.34" y2="702.78" stroke="#3d3d7e" stroke-width="0.9"/>
<line x1="405.38" y1="697.98" x2="405.38" y2="702.78" stroke="#3d3d7e" stroke-width="0.9"/>
<line x1="406.41" y1="697.98" x2="406.41" y2="702.78" stroke="#3d3d7e" stroke-width="0.9"/>
<line x1="411.51" y1="707.79" x2="411.51" y2="712.59" stroke="#3d3d7e" stroke-width="0.9"/>
<line x1="415.60" y1="707.79" x2="415.60" y2="712.59" stroke="#3d3d7e" stroke-width="0.9"/>
<line x1="417.65" y1="707.79" x2="417.65" y2="712.59" stroke="#3d3d7e" stroke-width="0.9"/>
<line x1="419.69" y1="707.79" x2="419.69" y2="712.59" stroke="#3d3d7e" stroke-width="0.9"/>
<polyline points="301.15,616.17 311.37,616.17 311.37,620.26 313.42,620.26 313.42,626.39 314.44,626.39 314.44,632.52 315.46,632.52 315.46,638.66 316.48,638.66 316.48,652.96 329.77,652.96 329.77,658.07 333.85,658.07 333.85,659.09 334.87,659.09 334.87,675.44 344.07,675.44 344.07,681.57 345.09,681.57 345.09,686.68 350.20,686.68 350.20,691.79 352.25,691.79 352.25,697.92 361.03,697.92 361.03,703.03 364.51,703.03 364.51,709.16 381.88,709.16 381.88,714.27 384.95,714.27 384.95,720.00 391.69,720.00 391.69,725.51 418.67,725.51 418.67,725.51" fill="none" stroke="#d6a13a" stroke-width="1.05"/>
<line x1="399.25" y1="723.11" x2="399.25" y2="727.91" stroke="#d6a13a" stroke-width="0.9"/>
<line x1="401.30" y1="723.11" x2="401.30" y2="727.91" stroke="#d6a13a" stroke-width="0.9"/>
<line x1="403.34" y1="723.11" x2="403.34" y2="727.91" stroke="#d6a13a" stroke-width="0.9"/>
<line x1="406.41" y1="723.11" x2="406.41" y2="727.91" stroke="#d6a13a" stroke-width="0.9"/>
<line x1="411.51" y1="723.11" x2="411.51" y2="727.91" stroke="#d6a13a" stroke-width="0.9"/>
<line x1="414.58" y1="723.11" x2="414.58" y2="727.91" stroke="#d6a13a" stroke-width="0.9"/>
<line x1="417.65" y1="723.11" x2="417.65" y2="727.91" stroke="#d6a13a" stroke-width="0.9"/>
<polyline points="301.15,616.17 303.20,616.17 303.20,620.26 308.31,620.26 308.31,627.42 314.44,627.42 314.44,632.52 318.52,632.52 318.52,638.66 330.79,638.66 330.79,644.79 339.37,644.79 339.37,650.92 354.90,650.92 354.90,657.05 361.03,657.05 361.03,669.31 361.44,669.31 361.44,674.42 405.38,674.42 405.38,685.66 423.78,685.66 423.78,759.24" fill="none" stroke="#3d3d7e" stroke-width="1.05"/>
<line x1="400.27" y1="672.02" x2="400.27" y2="676.82" stroke="#3d3d7e" stroke-width="0.9"/>
<line x1="402.32" y1="672.02" x2="402.32" y2="676.82" stroke="#3d3d7e" stroke-width="0.9"/>
<line x1="404.36" y1="672.02" x2="404.36" y2="676.82" stroke="#3d3d7e" stroke-width="0.9"/>
<line x1="405.38" y1="683.26" x2="405.38" y2="688.06" stroke="#3d3d7e" stroke-width="0.9"/>
<line x1="414.58" y1="683.26" x2="414.58" y2="688.06" stroke="#3d3d7e" stroke-width="0.9"/>
<line x1="416.62" y1="683.26" x2="416.62" y2="688.06" stroke="#3d3d7e" stroke-width="0.9"/>
<line x1="418.67" y1="683.26" x2="418.67" y2="688.06" stroke="#3d3d7e" stroke-width="0.9"/>
<line x1="420.71" y1="683.26" x2="420.71" y2="688.06" stroke="#3d3d7e" stroke-width="0.9"/>
<text x="468.00" y="613.60" font-size="16.4" font-weight="bold" fill="#000" stroke="#000" stroke-width="0.35">g</text>
<line x1="523.50" y1="608.30" x2="523.50" y2="766.10" stroke="#231f20" stroke-width="1.1"/>
<line x1="523.00" y1="766.00" x2="676.20" y2="766.00" stroke="#231f20" stroke-width="1.3"/>
<line x1="520.20" y1="615.90" x2="523.50" y2="615.90" stroke="#231f20" stroke-width="1"/>
<text x="517.20" y="619.30" font-size="10.1" text-anchor="end" fill="#231f20">1.00</text>
<line x1="520.20" y1="651.67" x2="523.50" y2="651.67" stroke="#231f20" stroke-width="1"/>
<text x="517.20" y="655.07" font-size="10.1" text-anchor="end" fill="#231f20">0.75</text>
<line x1="520.20" y1="687.45" x2="523.50" y2="687.45" stroke="#231f20" stroke-width="1"/>
<text x="517.20" y="690.85" font-size="10.1" text-anchor="end" fill="#231f20">0.50</text>
<line x1="520.20" y1="723.23" x2="523.50" y2="723.23" stroke="#231f20" stroke-width="1"/>
<text x="517.20" y="726.62" font-size="10.1" text-anchor="end" fill="#231f20">0.25</text>
<line x1="520.20" y1="759.00" x2="523.50" y2="759.00" stroke="#231f20" stroke-width="1"/>
<text x="517.20" y="762.40" font-size="10.1" text-anchor="end" fill="#231f20">0</text>
<line x1="530.20" y1="765.60" x2="530.20" y2="768.80" stroke="#231f20" stroke-width="1"/>
<text x="530.20" y="780.70" font-size="10.1" text-anchor="middle" fill="#231f20">0</text>
<line x1="551.02" y1="765.60" x2="551.02" y2="768.80" stroke="#231f20" stroke-width="1"/>
<text x="551.02" y="780.70" font-size="10.1" text-anchor="middle" fill="#231f20">6</text>
<line x1="571.83" y1="765.60" x2="571.83" y2="768.80" stroke="#231f20" stroke-width="1"/>
<text x="571.83" y="780.70" font-size="10.1" text-anchor="middle" fill="#231f20">12</text>
<line x1="592.65" y1="765.60" x2="592.65" y2="768.80" stroke="#231f20" stroke-width="1"/>
<text x="592.65" y="780.70" font-size="10.1" text-anchor="middle" fill="#231f20">18</text>
<line x1="613.47" y1="765.60" x2="613.47" y2="768.80" stroke="#231f20" stroke-width="1"/>
<text x="613.47" y="780.70" font-size="10.1" text-anchor="middle" fill="#231f20">24</text>
<line x1="634.28" y1="765.60" x2="634.28" y2="768.80" stroke="#231f20" stroke-width="1"/>
<text x="634.28" y="780.70" font-size="10.1" text-anchor="middle" fill="#231f20">30</text>
<line x1="655.10" y1="765.60" x2="655.10" y2="768.80" stroke="#231f20" stroke-width="1"/>
<text x="655.10" y="780.70" font-size="10.1" text-anchor="middle" fill="#231f20">36</text>
<text x="599.70" y="793.40" font-size="10.1" text-anchor="middle" fill="#231f20">Time after treatment start (months)</text>
<text transform="translate(488.90,686.45) rotate(-90)" font-size="10.1" text-anchor="middle" fill="#231f20">OS</text>
<text x="527.70" y="809.50" font-size="10.1" fill="#231f20">Number at risk</text>
<text x="470.10" y="819.70" font-size="10.45" fill="#231f20">T + A low</text>
<line x1="455.70" y1="816.10" x2="460.80" y2="816.10" stroke="#2d4d72" stroke-width="1.2"/>
<line x1="460.80" y1="812.30" x2="460.80" y2="819.90" stroke="#2d4d72" stroke-width="1.1"/>
<text x="531.90" y="820.60" font-size="9.1" text-anchor="middle" fill="#231f20">30</text>
<text x="552.72" y="820.60" font-size="9.1" text-anchor="middle" fill="#231f20">24</text>
<text x="573.53" y="820.60" font-size="9.1" text-anchor="middle" fill="#231f20">18</text>
<text x="594.35" y="820.60" font-size="9.1" text-anchor="middle" fill="#231f20">14</text>
<text x="615.17" y="820.60" font-size="9.1" text-anchor="middle" fill="#231f20">13</text>
<text x="635.98" y="820.60" font-size="9.1" text-anchor="middle" fill="#231f20">9</text>
<text x="656.80" y="820.60" font-size="9.1" text-anchor="middle" fill="#231f20">0</text>
<text x="470.10" y="829.20" font-size="10.45" fill="#231f20">P + A low</text>
<line x1="455.70" y1="825.60" x2="460.80" y2="825.60" stroke="#d6a13a" stroke-width="1.2"/>
<line x1="460.80" y1="821.80" x2="460.80" y2="829.40" stroke="#d6a13a" stroke-width="1.1"/>
<text x="531.90" y="830.10" font-size="9.1" text-anchor="middle" fill="#231f20">22</text>
<text x="552.72" y="830.10" font-size="9.1" text-anchor="middle" fill="#231f20">13</text>
<text x="573.53" y="830.10" font-size="9.1" text-anchor="middle" fill="#231f20">10</text>
<text x="594.35" y="830.10" font-size="9.1" text-anchor="middle" fill="#231f20">7</text>
<text x="615.17" y="830.10" font-size="9.1" text-anchor="middle" fill="#231f20">6</text>
<text x="635.98" y="830.10" font-size="9.1" text-anchor="middle" fill="#231f20">3</text>
<text x="656.80" y="830.10" font-size="9.1" text-anchor="middle" fill="#231f20">0</text>
<text x="470.10" y="839.00" font-size="10.45" fill="#231f20">T + A high</text>
<line x1="455.70" y1="835.40" x2="468.30" y2="835.40" stroke="#2d4d72" stroke-width="1.3"/>
<line x1="461.00" y1="831.00" x2="461.00" y2="839.80" stroke="#2d4d72" stroke-width="1.2"/>
<text x="531.90" y="839.90" font-size="9.1" text-anchor="middle" fill="#231f20">23</text>
<text x="552.72" y="839.90" font-size="9.1" text-anchor="middle" fill="#231f20">20</text>
<text x="573.53" y="839.90" font-size="9.1" text-anchor="middle" fill="#231f20">18</text>
<text x="594.35" y="839.90" font-size="9.1" text-anchor="middle" fill="#231f20">16</text>
<text x="615.17" y="839.90" font-size="9.1" text-anchor="middle" fill="#231f20">15</text>
<text x="635.98" y="839.90" font-size="9.1" text-anchor="middle" fill="#231f20">9</text>
<text x="656.80" y="839.90" font-size="9.1" text-anchor="middle" fill="#231f20">0</text>
<text x="470.10" y="848.60" font-size="10.45" fill="#231f20">P + A high</text>
<line x1="455.70" y1="845.00" x2="468.30" y2="845.00" stroke="#d6a13a" stroke-width="1.3"/>
<line x1="461.00" y1="840.60" x2="461.00" y2="849.40" stroke="#d6a13a" stroke-width="1.2"/>
<text x="531.90" y="849.50" font-size="9.1" text-anchor="middle" fill="#231f20">30</text>
<text x="552.72" y="849.50" font-size="9.1" text-anchor="middle" fill="#231f20">23</text>
<text x="573.53" y="849.50" font-size="9.1" text-anchor="middle" fill="#231f20">19</text>
<text x="594.35" y="849.50" font-size="9.1" text-anchor="middle" fill="#231f20">13</text>
<text x="615.17" y="849.50" font-size="9.1" text-anchor="middle" fill="#231f20">11</text>
<text x="635.98" y="849.50" font-size="9.1" text-anchor="middle" fill="#231f20">4</text>
<text x="656.80" y="849.50" font-size="9.1" text-anchor="middle" fill="#231f20">0</text>
<line x1="564.90" y1="687.45" x2="564.90" y2="759.00" stroke="#111" stroke-width="1.45" stroke-dasharray="4.2,5.1" stroke-dashoffset="-1.5"/>
<line x1="587.80" y1="687.45" x2="587.80" y2="759.00" stroke="#111" stroke-width="1.45" stroke-dasharray="4.2,5.1" stroke-dashoffset="-1.5"/>
<line x1="589.80" y1="687.45" x2="589.80" y2="759.00" stroke="#111" stroke-width="1.45" stroke-dasharray="4.2,5.1" stroke-dashoffset="-1.5"/>
<line x1="653.80" y1="687.45" x2="653.80" y2="759.00" stroke="#111" stroke-width="1.45" stroke-dasharray="4.2,5.1" stroke-dashoffset="-1.5"/>
<polyline points="532.17,615.77 537.28,615.77 537.28,620.26 538.31,620.26 538.31,626.39 542.39,626.39 542.39,630.48 544.44,630.48 544.44,634.57 546.48,634.57 546.48,648.87 547.50,648.87 547.50,657.05 550.57,657.05 550.57,662.16 552.61,662.16 552.61,673.40 558.74,673.40 558.74,678.51 560.79,678.51 560.79,685.66 564.87,685.66 564.87,689.75 578.16,689.75 578.16,692.82 581.22,692.82 581.22,697.92 582.25,697.92 582.25,710.19 594.51,710.19 594.51,717.34 624.14,717.34 624.14,723.47 631.30,723.47 631.30,726.54 647.65,726.54 647.65,726.54" fill="none" stroke="#d6a13a" stroke-width="1.05" stroke-dasharray="5.5,4.5"/>
<polyline points="532.17,615.77 538.31,615.77 538.31,622.31 543.42,622.31 543.42,630.48 547.50,630.48 547.50,636.61 548.52,636.61 548.52,640.70 551.59,640.70 551.59,648.87 556.70,648.87 556.70,656.03 561.81,656.03 561.81,663.18 571.01,663.18 571.01,668.29 572.03,668.29 572.03,672.38 574.07,672.38 574.07,677.49 582.25,677.49 582.25,682.60 584.29,682.60 584.29,685.66 587.36,685.66 587.36,688.73 591.44,688.73 591.44,691.79 595.53,691.79 595.53,693.84 599.62,693.84 599.62,696.90 616.99,696.90 616.99,700.99 622.10,700.99 622.10,702.01 630.27,702.01 630.27,707.12 642.54,707.12 642.54,713.87 651.73,713.87 651.73,713.87" fill="none" stroke="#3d3d7e" stroke-width="1.05" stroke-dasharray="5.5,4.5"/>
<line x1="631.30" y1="704.72" x2="631.30" y2="709.52" stroke="#3d3d7e" stroke-width="0.9"/>
<line x1="633.34" y1="704.72" x2="633.34" y2="709.52" stroke="#3d3d7e" stroke-width="0.9"/>
<line x1="635.38" y1="704.72" x2="635.38" y2="709.52" stroke="#3d3d7e" stroke-width="0.9"/>
<line x1="638.45" y1="704.72" x2="638.45" y2="709.52" stroke="#3d3d7e" stroke-width="0.9"/>
<line x1="644.58" y1="711.47" x2="644.58" y2="716.27" stroke="#3d3d7e" stroke-width="0.9"/>
<line x1="646.62" y1="711.47" x2="646.62" y2="716.27" stroke="#3d3d7e" stroke-width="0.9"/>
<line x1="648.67" y1="711.47" x2="648.67" y2="716.27" stroke="#3d3d7e" stroke-width="0.9"/>
<line x1="650.71" y1="711.47" x2="650.71" y2="716.27" stroke="#3d3d7e" stroke-width="0.9"/>
<polyline points="531.15,615.77 541.98,615.77 541.98,615.77 542.80,615.77 542.80,621.28 543.42,621.28 543.42,628.44 544.44,628.44 544.44,634.57 546.07,634.57 546.07,639.68 546.89,639.68 546.89,644.79 560.79,644.79 560.79,649.90 562.83,649.90 562.83,650.92 564.87,650.92 564.87,661.14 565.90,661.14 565.90,664.20 573.05,664.20 573.05,665.22 574.07,665.22 574.07,669.31 576.12,669.31 576.12,674.42 578.16,674.42 578.16,679.53 579.18,679.53 579.18,684.64 591.44,684.64 591.44,694.86 597.57,694.86 597.57,699.97 612.90,699.97 612.90,704.06 613.92,704.06 613.92,709.16 622.10,709.16 622.10,714.27 628.64,714.27 628.64,719.38 630.27,719.38 630.27,722.45 631.30,722.45 631.30,725.51 649.69,725.51 649.69,725.51" fill="none" stroke="#d6a13a" stroke-width="1.05"/>
<line x1="629.25" y1="711.87" x2="629.25" y2="716.67" stroke="#d6a13a" stroke-width="0.9"/>
<line x1="632.32" y1="723.11" x2="632.32" y2="727.91" stroke="#d6a13a" stroke-width="0.9"/>
<line x1="634.36" y1="723.11" x2="634.36" y2="727.91" stroke="#d6a13a" stroke-width="0.9"/>
<line x1="637.43" y1="723.11" x2="637.43" y2="727.91" stroke="#d6a13a" stroke-width="0.9"/>
<line x1="642.54" y1="723.11" x2="642.54" y2="727.91" stroke="#d6a13a" stroke-width="0.9"/>
<line x1="647.65" y1="723.11" x2="647.65" y2="727.91" stroke="#d6a13a" stroke-width="0.9"/>
<polyline points="532.17,615.77 541.98,615.77 541.98,621.90 560.79,621.90 560.79,628.44 569.37,628.44 569.37,634.98 590.42,634.98 590.42,642.74 591.44,642.74 591.44,648.87 611.47,648.87 611.47,656.03 614.95,656.03 614.95,657.05 615.56,657.05 615.56,663.18 636.00,663.18 636.00,676.47 653.78,676.47 653.78,759.24" fill="none" stroke="#3d3d7e" stroke-width="1.05"/>
<line x1="545.46" y1="619.50" x2="545.46" y2="624.30" stroke="#3d3d7e" stroke-width="0.9"/>
<line x1="630.27" y1="660.78" x2="630.27" y2="665.58" stroke="#3d3d7e" stroke-width="0.9"/>
<line x1="632.32" y1="660.78" x2="632.32" y2="665.58" stroke="#3d3d7e" stroke-width="0.9"/>
<line x1="634.36" y1="660.78" x2="634.36" y2="665.58" stroke="#3d3d7e" stroke-width="0.9"/>
<line x1="635.38" y1="660.78" x2="635.38" y2="665.58" stroke="#3d3d7e" stroke-width="0.9"/>
<line x1="636.41" y1="674.07" x2="636.41" y2="678.87" stroke="#3d3d7e" stroke-width="0.9"/>
<line x1="640.49" y1="674.07" x2="640.49" y2="678.87" stroke="#3d3d7e" stroke-width="0.9"/>
<line x1="644.58" y1="674.07" x2="644.58" y2="678.87" stroke="#3d3d7e" stroke-width="0.9"/>
<line x1="647.65" y1="674.07" x2="647.65" y2="678.87" stroke="#3d3d7e" stroke-width="0.9"/>
<line x1="650.71" y1="674.07" x2="650.71" y2="678.87" stroke="#3d3d7e" stroke-width="0.9"/>
</svg>
</body></html>
